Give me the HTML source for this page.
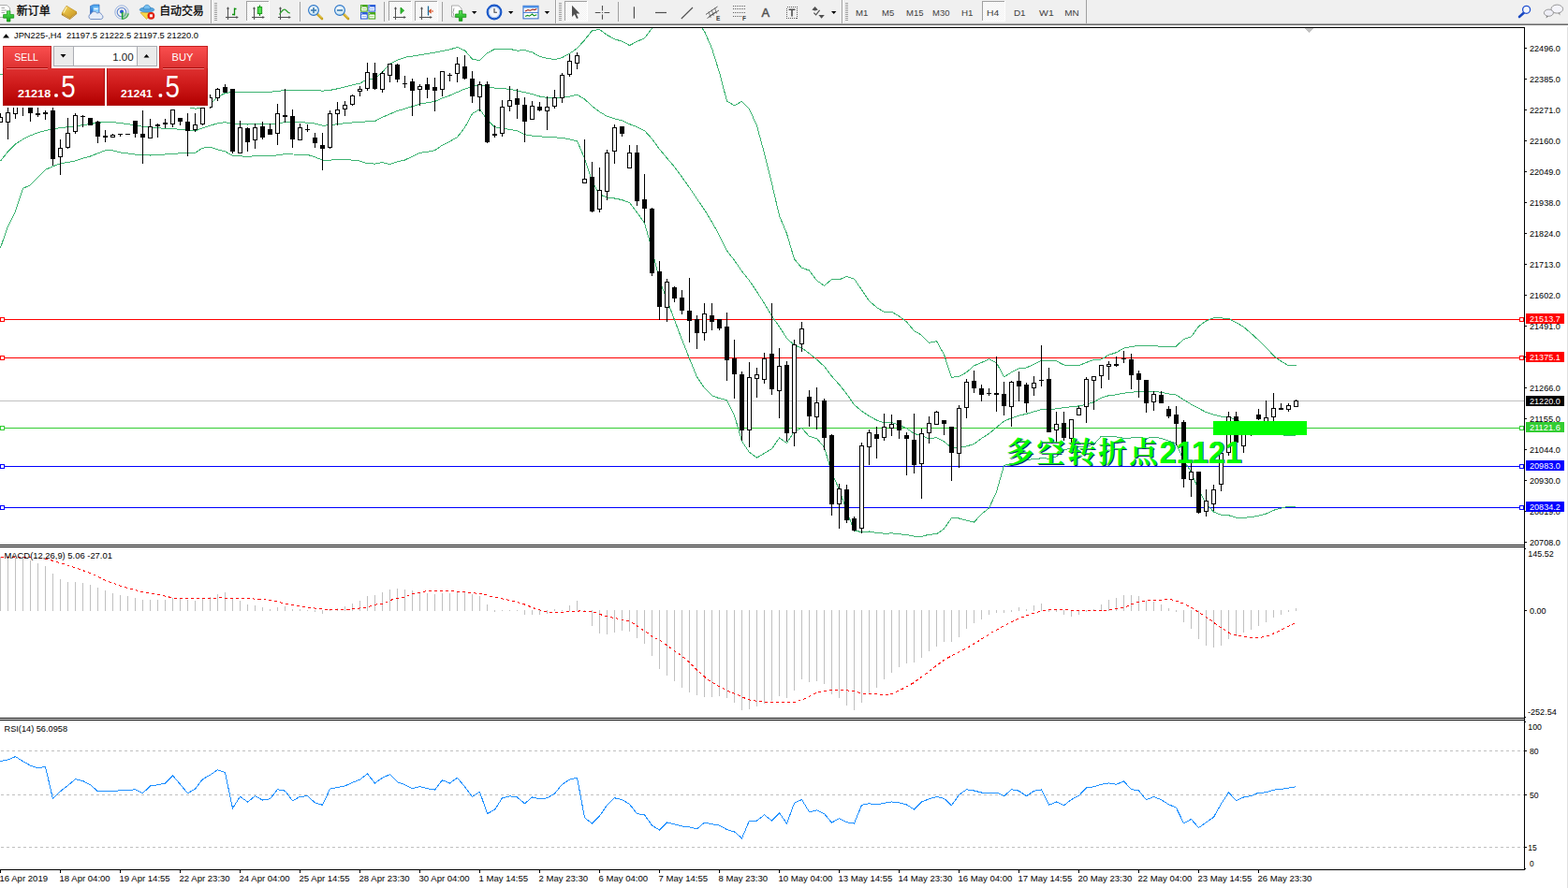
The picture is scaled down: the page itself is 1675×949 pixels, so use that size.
<!DOCTYPE html>
<html><head><meta charset="utf-8"><title>JPN225 H4</title>
<style>
html,body{margin:0;padding:0;background:#fff;overflow:hidden}
body{width:1675px;height:949px;position:relative;font-family:"Liberation Sans",sans-serif}

#panel{position:absolute;left:0;top:0;width:230px;height:120px}
#panel .pb{position:absolute;box-sizing:border-box}
#panel .sellt{background:linear-gradient(#f94e4e,#de3232);border:1px solid #c42020;border-bottom:none}
#panel .low{background:linear-gradient(#de3030,#d01c1c 40%,#b20000);border:1px solid #b01010;border-top:none}

</style></head><body>
<svg id="chart" width="1675" height="949" viewBox="0 0 1675 949" style="position:absolute;left:0;top:0" font-family="Liberation Sans, sans-serif" font-size="9.7px">
<g shape-rendering="crispEdges">
<rect x="0" y="29" width="1629" height="1" fill="#000"/>
<rect x="1628" y="29" width="1" height="901" fill="#000"/>
<rect x="0" y="582" width="1629" height="1" fill="#000"/>
<rect x="0" y="584" width="1629" height="1" fill="#000"/>
<rect x="0" y="767" width="1629" height="1" fill="#000"/>
<rect x="0" y="769" width="1629" height="1" fill="#000"/>
<rect x="0" y="929" width="1629" height="1" fill="#000"/>
<rect x="1674" y="26" width="1" height="923" fill="#e0e0e0"/>
<clipPath id="cm"><rect x="0" y="30" width="1628" height="552"/></clipPath>
<clipPath id="cd"><rect x="0" y="585" width="1628" height="182"/></clipPath>
<clipPath id="cr"><rect x="0" y="770" width="1628" height="159"/></clipPath>
<rect x="0" y="428" width="1628" height="1" fill="#c0c0c0"/>
</g>
<g shape-rendering="crispEdges">
<rect x="0" y="341" width="1628" height="1" fill="#ff0000"/>
<rect x="0" y="339" width="5" height="5" fill="#ff0000"/>
<rect x="1" y="340" width="3" height="3" fill="#fff"/>
<rect x="1623" y="339" width="5" height="5" fill="#ff0000"/>
<rect x="1624" y="340" width="3" height="3" fill="#fff"/>
<rect x="0" y="382" width="1628" height="1" fill="#ff0000"/>
<rect x="0" y="380" width="5" height="5" fill="#ff0000"/>
<rect x="1" y="381" width="3" height="3" fill="#fff"/>
<rect x="1623" y="380" width="5" height="5" fill="#ff0000"/>
<rect x="1624" y="381" width="3" height="3" fill="#fff"/>
<rect x="0" y="457" width="1628" height="1" fill="#32cd32"/>
<rect x="0" y="455" width="5" height="5" fill="#32cd32"/>
<rect x="1" y="456" width="3" height="3" fill="#fff"/>
<rect x="1623" y="455" width="5" height="5" fill="#32cd32"/>
<rect x="1624" y="456" width="3" height="3" fill="#fff"/>
<rect x="0" y="498" width="1628" height="1" fill="#0000ff"/>
<rect x="0" y="496" width="5" height="5" fill="#0000ff"/>
<rect x="1" y="497" width="3" height="3" fill="#fff"/>
<rect x="1623" y="496" width="5" height="5" fill="#0000ff"/>
<rect x="1624" y="497" width="3" height="3" fill="#fff"/>
<rect x="0" y="542" width="1628" height="1" fill="#0000ff"/>
<rect x="0" y="540" width="5" height="5" fill="#0000ff"/>
<rect x="1" y="541" width="3" height="3" fill="#fff"/>
<rect x="1623" y="540" width="5" height="5" fill="#0000ff"/>
<rect x="1624" y="541" width="3" height="3" fill="#fff"/>
</g>
<g shape-rendering="crispEdges">
<polyline clip-path="url(#cm)" points="0.5,79.2 8.5,82.1 16.5,82.5 24.5,96.1 32.5,92.0 40.5,94.2 48.5,97.5 56.5,97.6 64.5,98.5 72.5,97.9 80.5,97.4 88.5,98.3 96.5,98.0 104.5,98.7 112.5,100.6 120.5,100.6 128.5,100.1 136.5,101.2 144.5,102.3 152.5,104.7 160.5,105.6 168.5,107.1 176.5,110.2 184.5,111.3 192.5,112.6 200.5,114.4 208.5,116.1 216.5,115.7 224.5,111.1 232.5,103.8 240.5,99.4 248.5,98.6 256.5,98.7 264.5,98.4 272.5,98.4 280.5,98.4 288.5,98.3 296.5,97.3 304.5,96.7 312.5,96.6 320.5,96.6 328.5,96.7 336.5,96.3 344.5,97.2 352.5,96.4 360.5,94.8 368.5,92.8 376.5,90.8 384.5,89.1 392.5,84.6 400.5,83.8 408.5,77.1 416.5,68.1 424.5,64.3 432.5,61.3 440.5,60.1 448.5,58.8 456.5,57.4 464.5,56.2 472.5,54.5 480.5,52.9 488.5,50.5 496.5,53.9 504.5,63.1 512.5,64.8 520.5,56.8 528.5,52.4 536.5,52.1 544.5,52.3 552.5,54.2 560.5,53.6 568.5,55.9 576.5,60.3 584.5,62.3 592.5,63.6 600.5,61.5 608.5,57.2 616.5,51.7 624.5,42.8 632.5,32.8 640.5,31.4 648.5,37.4 656.5,41.8 664.5,44.2 672.5,48.5 680.5,44.4 688.5,40.7 696.5,30.1 704.5,19.3 712.5,17.6 720.5,14.9 728.5,15.6 736.5,17.8 744.5,22.4 752.5,33.4 760.5,51.8 768.5,77.4 776.5,108.1 784.5,112.7 792.5,108.4 800.5,116.5 808.5,134.5 816.5,163.8 824.5,196.1 832.5,230.4 840.5,249.7 848.5,276.9 856.5,286.3 864.5,289.0 872.5,299.8 880.5,305.3 888.5,298.7 896.5,298.9 904.5,295.4 912.5,298.1 920.5,309.8 928.5,321.6 936.5,328.5 944.5,333.4 952.5,333.2 960.5,338.0 968.5,343.9 976.5,353.6 984.5,358.2 992.5,366.4 1000.5,364.6 1008.5,378.9 1016.5,403.4 1024.5,402.3 1032.5,397.9 1040.5,390.8 1048.5,387.5 1056.5,383.9 1064.5,387.7 1072.5,402.8 1080.5,397.9 1088.5,393.9 1096.5,393.0 1104.5,389.2 1112.5,385.4 1120.5,385.3 1128.5,385.9 1136.5,390.0 1144.5,390.7 1152.5,390.7 1160.5,387.4 1168.5,384.3 1176.5,384.0 1184.5,379.3 1192.5,376.7 1200.5,372.2 1208.5,370.4 1216.5,369.4 1224.5,369.5 1232.5,369.4 1240.5,370.4 1248.5,370.8 1256.5,370.1 1264.5,362.4 1272.5,359.8 1280.5,348.8 1288.5,342.9 1296.5,339.7 1304.5,339.9 1312.5,340.4 1320.5,344.7 1328.5,349.4 1336.5,356.3 1344.5,363.6 1352.5,371.2 1360.5,380.2 1368.5,386.1 1376.5,390.7 1384.5,390.3" fill="none" stroke="#3cb371" stroke-width="1" />
<polyline clip-path="url(#cm)" points="0.5,172.0 8.5,162.0 16.5,154.1 24.5,148.8 32.5,144.9 40.5,141.8 48.5,139.5 56.5,137.7 64.5,136.7 72.5,135.7 80.5,134.7 88.5,133.7 96.5,132.5 104.5,131.2 112.5,130.7 120.5,130.7 128.5,131.5 136.5,132.6 144.5,133.7 152.5,135.3 160.5,135.8 168.5,136.5 176.5,137.6 184.5,137.8 192.5,138.2 200.5,139.1 208.5,139.7 216.5,136.9 224.5,134.2 232.5,131.8 240.5,130.7 248.5,132.5 256.5,132.7 264.5,133.0 272.5,132.5 280.5,132.6 288.5,132.7 296.5,131.6 304.5,130.7 312.5,130.8 320.5,130.8 328.5,131.1 336.5,132.1 344.5,134.2 352.5,133.8 360.5,132.7 368.5,131.6 376.5,131.0 384.5,130.6 392.5,129.7 400.5,129.5 408.5,125.3 416.5,121.9 424.5,118.5 432.5,116.2 440.5,113.7 448.5,111.1 456.5,109.8 464.5,108.5 472.5,104.8 480.5,102.0 488.5,98.5 496.5,95.1 504.5,92.3 512.5,90.8 520.5,92.5 528.5,94.1 536.5,94.7 544.5,95.3 552.5,97.0 560.5,98.7 568.5,100.5 576.5,103.0 584.5,104.5 592.5,105.2 600.5,104.4 608.5,103.1 616.5,101.2 624.5,106.0 632.5,113.4 640.5,119.5 648.5,124.3 656.5,126.9 664.5,128.9 672.5,132.6 680.5,135.7 688.5,139.6 696.5,148.4 704.5,159.4 712.5,168.9 720.5,178.4 728.5,189.3 736.5,200.5 744.5,212.6 752.5,224.1 760.5,237.3 768.5,251.6 776.5,267.8 784.5,278.2 792.5,289.9 800.5,299.9 808.5,311.8 816.5,324.2 824.5,337.8 832.5,349.2 840.5,361.6 848.5,368.9 856.5,371.9 864.5,377.7 872.5,384.2 880.5,391.6 888.5,402.0 896.5,411.0 904.5,421.0 912.5,432.6 920.5,439.2 928.5,444.8 936.5,449.0 944.5,451.8 952.5,451.5 960.5,454.3 968.5,457.7 976.5,463.4 984.5,465.8 992.5,468.8 1000.5,467.7 1008.5,471.9 1016.5,478.5 1024.5,478.1 1032.5,477.0 1040.5,474.4 1048.5,468.5 1056.5,463.4 1064.5,456.7 1072.5,450.1 1080.5,446.7 1088.5,444.2 1096.5,442.3 1104.5,439.9 1112.5,437.6 1120.5,437.7 1128.5,436.9 1136.5,435.5 1144.5,434.8 1152.5,433.9 1160.5,432.2 1168.5,429.7 1176.5,425.1 1184.5,422.7 1192.5,421.8 1200.5,420.2 1208.5,419.2 1216.5,418.5 1224.5,418.9 1232.5,418.3 1240.5,419.4 1248.5,421.0 1256.5,422.1 1264.5,427.2 1272.5,432.1 1280.5,436.4 1288.5,440.6 1296.5,443.3 1304.5,445.1 1312.5,445.5 1320.5,448.9 1328.5,451.4 1336.5,454.4 1344.5,457.4 1352.5,460.1 1360.5,462.8 1368.5,464.6 1376.5,466.0 1384.5,465.9" fill="none" stroke="#3cb371" stroke-width="1" />
<polyline clip-path="url(#cm)" points="0.5,264.8 8.5,241.9 16.5,225.7 24.5,201.4 32.5,197.7 40.5,189.5 48.5,181.4 56.5,177.8 64.5,174.8 72.5,173.4 80.5,171.9 88.5,169.1 96.5,167.0 104.5,163.8 112.5,160.8 120.5,160.8 128.5,163.0 136.5,164.0 144.5,165.1 152.5,165.9 160.5,166.0 168.5,165.9 176.5,164.9 184.5,164.3 192.5,163.9 200.5,163.8 208.5,163.2 216.5,158.2 224.5,157.3 232.5,159.9 240.5,161.9 248.5,166.5 256.5,166.7 264.5,167.6 272.5,166.5 280.5,166.8 288.5,167.0 296.5,165.8 304.5,164.6 312.5,165.0 320.5,165.1 328.5,165.4 336.5,167.8 344.5,171.2 352.5,171.1 360.5,170.5 368.5,170.4 376.5,171.2 384.5,172.1 392.5,174.7 400.5,175.1 408.5,173.5 416.5,175.7 424.5,172.7 432.5,171.0 440.5,167.2 448.5,163.4 456.5,162.3 464.5,160.7 472.5,155.2 480.5,151.2 488.5,146.6 496.5,136.3 504.5,121.5 512.5,116.7 520.5,128.2 528.5,135.8 536.5,137.3 544.5,138.3 552.5,139.8 560.5,143.8 568.5,145.1 576.5,145.7 584.5,146.7 592.5,146.9 600.5,147.3 608.5,148.9 616.5,150.8 624.5,169.1 632.5,194.1 640.5,207.7 648.5,211.2 656.5,212.0 664.5,213.6 672.5,216.6 680.5,227.0 688.5,238.4 696.5,266.8 704.5,299.6 712.5,320.3 720.5,341.9 728.5,363.0 736.5,383.2 744.5,402.8 752.5,414.8 760.5,422.8 768.5,425.7 776.5,427.6 784.5,443.8 792.5,471.4 800.5,483.4 808.5,489.1 816.5,484.5 824.5,479.6 832.5,468.0 840.5,473.5 848.5,460.9 856.5,457.4 864.5,466.4 872.5,468.6 880.5,478.0 888.5,505.2 896.5,523.1 904.5,546.6 912.5,567.0 920.5,568.6 928.5,568.0 936.5,569.4 944.5,570.2 952.5,569.9 960.5,570.7 968.5,571.6 976.5,573.2 984.5,573.4 992.5,571.2 1000.5,570.8 1008.5,565.0 1016.5,553.6 1024.5,554.0 1032.5,556.2 1040.5,558.0 1048.5,549.5 1056.5,542.9 1064.5,525.8 1072.5,497.4 1080.5,495.5 1088.5,494.5 1096.5,491.6 1104.5,490.6 1112.5,489.8 1120.5,490.1 1128.5,487.9 1136.5,481.0 1144.5,478.8 1152.5,477.2 1160.5,477.0 1168.5,475.1 1176.5,466.1 1184.5,466.1 1192.5,466.9 1200.5,468.3 1208.5,468.0 1216.5,467.6 1224.5,468.3 1232.5,467.2 1240.5,468.4 1248.5,471.2 1256.5,474.1 1264.5,492.0 1272.5,504.5 1280.5,524.1 1288.5,538.2 1296.5,547.0 1304.5,550.3 1312.5,550.7 1320.5,553.1 1328.5,553.4 1336.5,552.6 1344.5,551.1 1352.5,549.0 1360.5,545.3 1368.5,543.1 1376.5,541.2 1384.5,541.4" fill="none" stroke="#3cb371" stroke-width="1" />
</g>
<g shape-rendering="crispEdges" clip-path="url(#cm)">
<rect x="0" y="121" width="1" height="10" fill="#000"/>
<rect x="-2" y="125" width="5" height="6" fill="#000"/>
<rect x="-1" y="126" width="3" height="4" fill="#fff"/>
<rect x="8" y="115" width="1" height="34" fill="#000"/>
<rect x="6" y="120" width="5" height="11" fill="#000"/>
<rect x="7" y="121" width="3" height="9" fill="#fff"/>
<rect x="16" y="112" width="1" height="15" fill="#000"/>
<rect x="14" y="112" width="5" height="10" fill="#000"/>
<rect x="15" y="113" width="3" height="8" fill="#fff"/>
<rect x="24" y="112" width="1" height="12" fill="#000"/>
<rect x="22" y="112" width="5" height="1" fill="#000"/>
<rect x="32" y="112" width="1" height="18" fill="#000"/>
<rect x="30" y="112" width="5" height="9" fill="#000"/>
<rect x="40" y="112" width="1" height="13" fill="#000"/>
<rect x="38" y="121" width="5" height="2" fill="#000"/>
<rect x="48" y="118" width="1" height="10" fill="#000"/>
<rect x="46" y="120" width="5" height="2" fill="#000"/>
<rect x="56" y="115" width="1" height="62" fill="#000"/>
<rect x="54" y="118" width="5" height="52" fill="#000"/>
<rect x="64" y="149" width="1" height="38" fill="#000"/>
<rect x="62" y="158" width="5" height="10" fill="#000"/>
<rect x="63" y="159" width="3" height="8" fill="#fff"/>
<rect x="72" y="126" width="1" height="33" fill="#000"/>
<rect x="70" y="142" width="5" height="16" fill="#000"/>
<rect x="71" y="143" width="3" height="14" fill="#fff"/>
<rect x="80" y="121" width="1" height="22" fill="#000"/>
<rect x="78" y="123" width="5" height="18" fill="#000"/>
<rect x="79" y="124" width="3" height="16" fill="#fff"/>
<rect x="88" y="123" width="1" height="13" fill="#000"/>
<rect x="86" y="124" width="5" height="1" fill="#000"/>
<rect x="96" y="126" width="1" height="8" fill="#000"/>
<rect x="94" y="126" width="5" height="8" fill="#000"/>
<rect x="104" y="129" width="1" height="24" fill="#000"/>
<rect x="102" y="130" width="5" height="16" fill="#000"/>
<rect x="112" y="139" width="1" height="13" fill="#000"/>
<rect x="110" y="145" width="5" height="2" fill="#000"/>
<rect x="120" y="143" width="1" height="4" fill="#000"/>
<rect x="118" y="144" width="5" height="3" fill="#000"/>
<rect x="119" y="145" width="3" height="1" fill="#fff"/>
<rect x="128" y="143" width="1" height="3" fill="#000"/>
<rect x="126" y="143" width="5" height="1" fill="#000"/>
<rect x="134" y="143" width="5" height="1" fill="#000"/>
<rect x="144" y="129" width="1" height="18" fill="#000"/>
<rect x="142" y="129" width="5" height="14" fill="#000"/>
<rect x="152" y="118" width="1" height="57" fill="#000"/>
<rect x="150" y="143" width="5" height="4" fill="#000"/>
<rect x="160" y="127" width="1" height="21" fill="#000"/>
<rect x="158" y="135" width="5" height="13" fill="#000"/>
<rect x="159" y="136" width="3" height="11" fill="#fff"/>
<rect x="168" y="132" width="1" height="15" fill="#000"/>
<rect x="166" y="133" width="5" height="2" fill="#000"/>
<rect x="176" y="127" width="1" height="10" fill="#000"/>
<rect x="174" y="131" width="5" height="2" fill="#000"/>
<rect x="184" y="117" width="1" height="19" fill="#000"/>
<rect x="182" y="117" width="5" height="16" fill="#000"/>
<rect x="183" y="118" width="3" height="14" fill="#fff"/>
<rect x="192" y="126" width="1" height="8" fill="#000"/>
<rect x="190" y="126" width="5" height="4" fill="#000"/>
<rect x="200" y="121" width="1" height="46" fill="#000"/>
<rect x="198" y="130" width="5" height="10" fill="#000"/>
<rect x="208" y="121" width="1" height="20" fill="#000"/>
<rect x="206" y="133" width="5" height="6" fill="#000"/>
<rect x="207" y="134" width="3" height="4" fill="#fff"/>
<rect x="216" y="113" width="1" height="21" fill="#000"/>
<rect x="214" y="115" width="5" height="18" fill="#000"/>
<rect x="215" y="116" width="3" height="16" fill="#fff"/>
<rect x="224" y="101" width="1" height="15" fill="#000"/>
<rect x="222" y="104" width="5" height="11" fill="#000"/>
<rect x="223" y="105" width="3" height="9" fill="#fff"/>
<rect x="232" y="94" width="1" height="14" fill="#000"/>
<rect x="230" y="95" width="5" height="10" fill="#000"/>
<rect x="231" y="96" width="3" height="8" fill="#fff"/>
<rect x="240" y="90" width="1" height="9" fill="#000"/>
<rect x="238" y="93" width="5" height="6" fill="#000"/>
<rect x="248" y="95" width="1" height="69" fill="#000"/>
<rect x="246" y="95" width="5" height="67" fill="#000"/>
<rect x="256" y="129" width="1" height="35" fill="#000"/>
<rect x="254" y="136" width="5" height="28" fill="#000"/>
<rect x="255" y="137" width="3" height="26" fill="#fff"/>
<rect x="264" y="136" width="1" height="26" fill="#000"/>
<rect x="262" y="137" width="5" height="15" fill="#000"/>
<rect x="272" y="132" width="1" height="27" fill="#000"/>
<rect x="270" y="136" width="5" height="14" fill="#000"/>
<rect x="271" y="137" width="3" height="12" fill="#fff"/>
<rect x="280" y="130" width="1" height="19" fill="#000"/>
<rect x="278" y="135" width="5" height="12" fill="#000"/>
<rect x="288" y="132" width="1" height="12" fill="#000"/>
<rect x="286" y="138" width="5" height="6" fill="#000"/>
<rect x="296" y="111" width="1" height="44" fill="#000"/>
<rect x="294" y="121" width="5" height="22" fill="#000"/>
<rect x="295" y="122" width="3" height="20" fill="#fff"/>
<rect x="304" y="95" width="1" height="36" fill="#000"/>
<rect x="302" y="123" width="5" height="2" fill="#000"/>
<rect x="312" y="117" width="1" height="41" fill="#000"/>
<rect x="310" y="124" width="5" height="25" fill="#000"/>
<rect x="320" y="132" width="1" height="18" fill="#000"/>
<rect x="318" y="136" width="5" height="14" fill="#000"/>
<rect x="319" y="137" width="3" height="12" fill="#fff"/>
<rect x="328" y="133" width="1" height="8" fill="#000"/>
<rect x="326" y="138" width="5" height="1" fill="#000"/>
<rect x="336" y="142" width="1" height="16" fill="#000"/>
<rect x="334" y="147" width="5" height="6" fill="#000"/>
<rect x="344" y="142" width="1" height="40" fill="#000"/>
<rect x="342" y="155" width="5" height="4" fill="#000"/>
<rect x="352" y="118" width="1" height="41" fill="#000"/>
<rect x="350" y="121" width="5" height="37" fill="#000"/>
<rect x="351" y="122" width="3" height="35" fill="#fff"/>
<rect x="360" y="109" width="1" height="25" fill="#000"/>
<rect x="358" y="117" width="5" height="5" fill="#000"/>
<rect x="359" y="118" width="3" height="3" fill="#fff"/>
<rect x="368" y="108" width="1" height="16" fill="#000"/>
<rect x="366" y="112" width="5" height="5" fill="#000"/>
<rect x="367" y="113" width="3" height="3" fill="#fff"/>
<rect x="376" y="101" width="1" height="12" fill="#000"/>
<rect x="374" y="102" width="5" height="10" fill="#000"/>
<rect x="375" y="103" width="3" height="8" fill="#fff"/>
<rect x="384" y="92" width="1" height="11" fill="#000"/>
<rect x="382" y="95" width="5" height="3" fill="#000"/>
<rect x="383" y="96" width="3" height="1" fill="#fff"/>
<rect x="392" y="67" width="1" height="30" fill="#000"/>
<rect x="390" y="77" width="5" height="18" fill="#000"/>
<rect x="391" y="78" width="3" height="16" fill="#fff"/>
<rect x="400" y="67" width="1" height="29" fill="#000"/>
<rect x="398" y="78" width="5" height="17" fill="#000"/>
<rect x="408" y="76" width="1" height="23" fill="#000"/>
<rect x="406" y="78" width="5" height="18" fill="#000"/>
<rect x="407" y="79" width="3" height="16" fill="#fff"/>
<rect x="416" y="68" width="1" height="20" fill="#000"/>
<rect x="414" y="68" width="5" height="13" fill="#000"/>
<rect x="415" y="69" width="3" height="11" fill="#fff"/>
<rect x="424" y="68" width="1" height="20" fill="#000"/>
<rect x="422" y="69" width="5" height="16" fill="#000"/>
<rect x="432" y="81" width="1" height="13" fill="#000"/>
<rect x="430" y="89" width="5" height="1" fill="#000"/>
<rect x="440" y="84" width="1" height="40" fill="#000"/>
<rect x="438" y="87" width="5" height="10" fill="#000"/>
<rect x="448" y="90" width="1" height="23" fill="#000"/>
<rect x="446" y="92" width="5" height="4" fill="#000"/>
<rect x="447" y="93" width="3" height="2" fill="#fff"/>
<rect x="456" y="83" width="1" height="22" fill="#000"/>
<rect x="454" y="90" width="5" height="6" fill="#000"/>
<rect x="464" y="83" width="1" height="36" fill="#000"/>
<rect x="462" y="93" width="5" height="4" fill="#000"/>
<rect x="472" y="76" width="1" height="27" fill="#000"/>
<rect x="470" y="76" width="5" height="20" fill="#000"/>
<rect x="471" y="77" width="3" height="18" fill="#fff"/>
<rect x="480" y="78" width="1" height="9" fill="#000"/>
<rect x="478" y="80" width="5" height="1" fill="#000"/>
<rect x="488" y="61" width="1" height="27" fill="#000"/>
<rect x="486" y="68" width="5" height="11" fill="#000"/>
<rect x="487" y="69" width="3" height="9" fill="#fff"/>
<rect x="496" y="59" width="1" height="26" fill="#000"/>
<rect x="494" y="71" width="5" height="13" fill="#000"/>
<rect x="504" y="76" width="1" height="34" fill="#000"/>
<rect x="502" y="84" width="5" height="19" fill="#000"/>
<rect x="512" y="87" width="1" height="32" fill="#000"/>
<rect x="510" y="90" width="5" height="14" fill="#000"/>
<rect x="511" y="91" width="3" height="12" fill="#fff"/>
<rect x="520" y="87" width="1" height="66" fill="#000"/>
<rect x="518" y="90" width="5" height="62" fill="#000"/>
<rect x="528" y="134" width="1" height="13" fill="#000"/>
<rect x="526" y="143" width="5" height="2" fill="#000"/>
<rect x="536" y="107" width="1" height="39" fill="#000"/>
<rect x="534" y="114" width="5" height="29" fill="#000"/>
<rect x="535" y="115" width="3" height="27" fill="#fff"/>
<rect x="544" y="92" width="1" height="27" fill="#000"/>
<rect x="542" y="107" width="5" height="7" fill="#000"/>
<rect x="543" y="108" width="3" height="5" fill="#fff"/>
<rect x="552" y="95" width="1" height="32" fill="#000"/>
<rect x="550" y="105" width="5" height="7" fill="#000"/>
<rect x="560" y="104" width="1" height="48" fill="#000"/>
<rect x="558" y="112" width="5" height="18" fill="#000"/>
<rect x="568" y="108" width="1" height="20" fill="#000"/>
<rect x="566" y="113" width="5" height="15" fill="#000"/>
<rect x="567" y="114" width="3" height="13" fill="#fff"/>
<rect x="576" y="109" width="1" height="10" fill="#000"/>
<rect x="574" y="114" width="5" height="4" fill="#000"/>
<rect x="584" y="103" width="1" height="36" fill="#000"/>
<rect x="582" y="114" width="5" height="5" fill="#000"/>
<rect x="583" y="115" width="3" height="3" fill="#fff"/>
<rect x="592" y="96" width="1" height="20" fill="#000"/>
<rect x="590" y="104" width="5" height="10" fill="#000"/>
<rect x="591" y="105" width="3" height="8" fill="#fff"/>
<rect x="600" y="78" width="1" height="32" fill="#000"/>
<rect x="598" y="80" width="5" height="25" fill="#000"/>
<rect x="599" y="81" width="3" height="23" fill="#fff"/>
<rect x="608" y="58" width="1" height="24" fill="#000"/>
<rect x="606" y="65" width="5" height="15" fill="#000"/>
<rect x="607" y="66" width="3" height="13" fill="#fff"/>
<rect x="616" y="56" width="1" height="18" fill="#000"/>
<rect x="614" y="59" width="5" height="9" fill="#000"/>
<rect x="615" y="60" width="3" height="7" fill="#fff"/>
<rect x="624" y="149" width="1" height="46" fill="#000"/>
<rect x="622" y="191" width="5" height="5" fill="#000"/>
<rect x="623" y="192" width="3" height="3" fill="#fff"/>
<rect x="632" y="173" width="1" height="54" fill="#000"/>
<rect x="630" y="189" width="5" height="37" fill="#000"/>
<rect x="640" y="179" width="1" height="48" fill="#000"/>
<rect x="638" y="203" width="5" height="21" fill="#000"/>
<rect x="639" y="204" width="3" height="19" fill="#fff"/>
<rect x="648" y="160" width="1" height="54" fill="#000"/>
<rect x="646" y="163" width="5" height="42" fill="#000"/>
<rect x="647" y="164" width="3" height="40" fill="#fff"/>
<rect x="656" y="133" width="1" height="42" fill="#000"/>
<rect x="654" y="136" width="5" height="26" fill="#000"/>
<rect x="655" y="137" width="3" height="24" fill="#fff"/>
<rect x="664" y="135" width="1" height="11" fill="#000"/>
<rect x="662" y="135" width="5" height="8" fill="#000"/>
<rect x="672" y="155" width="1" height="25" fill="#000"/>
<rect x="670" y="163" width="5" height="17" fill="#000"/>
<rect x="671" y="164" width="3" height="15" fill="#fff"/>
<rect x="680" y="155" width="1" height="65" fill="#000"/>
<rect x="678" y="163" width="5" height="52" fill="#000"/>
<rect x="688" y="186" width="1" height="52" fill="#000"/>
<rect x="686" y="213" width="5" height="10" fill="#000"/>
<rect x="696" y="222" width="1" height="73" fill="#000"/>
<rect x="694" y="223" width="5" height="69" fill="#000"/>
<rect x="704" y="279" width="1" height="63" fill="#000"/>
<rect x="702" y="290" width="5" height="38" fill="#000"/>
<rect x="712" y="298" width="1" height="46" fill="#000"/>
<rect x="710" y="301" width="5" height="28" fill="#000"/>
<rect x="711" y="302" width="3" height="26" fill="#fff"/>
<rect x="720" y="306" width="1" height="17" fill="#000"/>
<rect x="718" y="307" width="5" height="12" fill="#000"/>
<rect x="728" y="310" width="1" height="26" fill="#000"/>
<rect x="726" y="318" width="5" height="14" fill="#000"/>
<rect x="736" y="297" width="1" height="69" fill="#000"/>
<rect x="734" y="332" width="5" height="11" fill="#000"/>
<rect x="744" y="337" width="1" height="36" fill="#000"/>
<rect x="742" y="341" width="5" height="15" fill="#000"/>
<rect x="752" y="324" width="1" height="40" fill="#000"/>
<rect x="750" y="335" width="5" height="21" fill="#000"/>
<rect x="751" y="336" width="3" height="19" fill="#fff"/>
<rect x="760" y="324" width="1" height="29" fill="#000"/>
<rect x="758" y="337" width="5" height="7" fill="#000"/>
<rect x="768" y="341" width="1" height="12" fill="#000"/>
<rect x="766" y="341" width="5" height="10" fill="#000"/>
<rect x="776" y="334" width="1" height="73" fill="#000"/>
<rect x="774" y="349" width="5" height="36" fill="#000"/>
<rect x="784" y="363" width="1" height="63" fill="#000"/>
<rect x="782" y="383" width="5" height="17" fill="#000"/>
<rect x="792" y="397" width="1" height="74" fill="#000"/>
<rect x="790" y="400" width="5" height="60" fill="#000"/>
<rect x="800" y="387" width="1" height="91" fill="#000"/>
<rect x="798" y="403" width="5" height="57" fill="#000"/>
<rect x="799" y="404" width="3" height="55" fill="#fff"/>
<rect x="808" y="393" width="1" height="32" fill="#000"/>
<rect x="806" y="400" width="5" height="5" fill="#000"/>
<rect x="807" y="401" width="3" height="3" fill="#fff"/>
<rect x="816" y="377" width="1" height="33" fill="#000"/>
<rect x="814" y="383" width="5" height="23" fill="#000"/>
<rect x="815" y="384" width="3" height="21" fill="#fff"/>
<rect x="824" y="324" width="1" height="98" fill="#000"/>
<rect x="822" y="378" width="5" height="38" fill="#000"/>
<rect x="832" y="372" width="1" height="75" fill="#000"/>
<rect x="830" y="391" width="5" height="27" fill="#000"/>
<rect x="831" y="392" width="3" height="25" fill="#fff"/>
<rect x="840" y="386" width="1" height="86" fill="#000"/>
<rect x="838" y="390" width="5" height="73" fill="#000"/>
<rect x="848" y="363" width="1" height="114" fill="#000"/>
<rect x="846" y="368" width="5" height="95" fill="#000"/>
<rect x="847" y="369" width="3" height="93" fill="#fff"/>
<rect x="856" y="344" width="1" height="32" fill="#000"/>
<rect x="854" y="351" width="5" height="17" fill="#000"/>
<rect x="855" y="352" width="3" height="15" fill="#fff"/>
<rect x="864" y="417" width="1" height="39" fill="#000"/>
<rect x="862" y="424" width="5" height="21" fill="#000"/>
<rect x="872" y="414" width="1" height="45" fill="#000"/>
<rect x="870" y="430" width="5" height="16" fill="#000"/>
<rect x="871" y="431" width="3" height="14" fill="#fff"/>
<rect x="880" y="426" width="1" height="55" fill="#000"/>
<rect x="878" y="428" width="5" height="40" fill="#000"/>
<rect x="888" y="464" width="1" height="87" fill="#000"/>
<rect x="886" y="465" width="5" height="74" fill="#000"/>
<rect x="896" y="517" width="1" height="48" fill="#000"/>
<rect x="894" y="522" width="5" height="17" fill="#000"/>
<rect x="895" y="523" width="3" height="15" fill="#fff"/>
<rect x="904" y="518" width="1" height="41" fill="#000"/>
<rect x="902" y="523" width="5" height="33" fill="#000"/>
<rect x="912" y="552" width="1" height="16" fill="#000"/>
<rect x="910" y="554" width="5" height="13" fill="#000"/>
<rect x="920" y="473" width="1" height="97" fill="#000"/>
<rect x="918" y="476" width="5" height="89" fill="#000"/>
<rect x="919" y="477" width="3" height="87" fill="#fff"/>
<rect x="928" y="459" width="1" height="38" fill="#000"/>
<rect x="926" y="462" width="5" height="16" fill="#000"/>
<rect x="927" y="463" width="3" height="14" fill="#fff"/>
<rect x="936" y="456" width="1" height="34" fill="#000"/>
<rect x="934" y="464" width="5" height="5" fill="#000"/>
<rect x="944" y="442" width="1" height="29" fill="#000"/>
<rect x="942" y="456" width="5" height="12" fill="#000"/>
<rect x="943" y="457" width="3" height="10" fill="#fff"/>
<rect x="952" y="443" width="1" height="23" fill="#000"/>
<rect x="950" y="453" width="5" height="5" fill="#000"/>
<rect x="951" y="454" width="3" height="3" fill="#fff"/>
<rect x="960" y="449" width="1" height="20" fill="#000"/>
<rect x="958" y="449" width="5" height="11" fill="#000"/>
<rect x="968" y="462" width="1" height="46" fill="#000"/>
<rect x="966" y="465" width="5" height="4" fill="#000"/>
<rect x="976" y="442" width="1" height="64" fill="#000"/>
<rect x="974" y="470" width="5" height="27" fill="#000"/>
<rect x="984" y="458" width="1" height="75" fill="#000"/>
<rect x="982" y="463" width="5" height="33" fill="#000"/>
<rect x="983" y="464" width="3" height="31" fill="#fff"/>
<rect x="992" y="445" width="1" height="29" fill="#000"/>
<rect x="990" y="452" width="5" height="11" fill="#000"/>
<rect x="991" y="453" width="3" height="9" fill="#fff"/>
<rect x="1000" y="439" width="1" height="15" fill="#000"/>
<rect x="998" y="440" width="5" height="14" fill="#000"/>
<rect x="999" y="441" width="3" height="12" fill="#fff"/>
<rect x="1008" y="449" width="1" height="16" fill="#000"/>
<rect x="1006" y="449" width="5" height="4" fill="#000"/>
<rect x="1016" y="456" width="1" height="58" fill="#000"/>
<rect x="1014" y="456" width="5" height="28" fill="#000"/>
<rect x="1024" y="433" width="1" height="67" fill="#000"/>
<rect x="1022" y="436" width="5" height="49" fill="#000"/>
<rect x="1023" y="437" width="3" height="47" fill="#fff"/>
<rect x="1032" y="405" width="1" height="42" fill="#000"/>
<rect x="1030" y="408" width="5" height="28" fill="#000"/>
<rect x="1031" y="409" width="3" height="26" fill="#fff"/>
<rect x="1040" y="396" width="1" height="24" fill="#000"/>
<rect x="1038" y="407" width="5" height="8" fill="#000"/>
<rect x="1048" y="411" width="1" height="18" fill="#000"/>
<rect x="1046" y="415" width="5" height="7" fill="#000"/>
<rect x="1056" y="415" width="1" height="8" fill="#000"/>
<rect x="1054" y="420" width="5" height="1" fill="#000"/>
<rect x="1064" y="381" width="1" height="59" fill="#000"/>
<rect x="1062" y="420" width="5" height="2" fill="#000"/>
<rect x="1072" y="408" width="1" height="36" fill="#000"/>
<rect x="1070" y="421" width="5" height="13" fill="#000"/>
<rect x="1080" y="407" width="1" height="49" fill="#000"/>
<rect x="1078" y="408" width="5" height="27" fill="#000"/>
<rect x="1079" y="409" width="3" height="25" fill="#fff"/>
<rect x="1088" y="397" width="1" height="32" fill="#000"/>
<rect x="1086" y="407" width="5" height="6" fill="#000"/>
<rect x="1096" y="409" width="1" height="32" fill="#000"/>
<rect x="1094" y="411" width="5" height="20" fill="#000"/>
<rect x="1104" y="402" width="1" height="21" fill="#000"/>
<rect x="1102" y="409" width="5" height="6" fill="#000"/>
<rect x="1103" y="410" width="3" height="4" fill="#fff"/>
<rect x="1112" y="369" width="1" height="44" fill="#000"/>
<rect x="1110" y="406" width="5" height="1" fill="#000"/>
<rect x="1120" y="393" width="1" height="69" fill="#000"/>
<rect x="1118" y="405" width="5" height="57" fill="#000"/>
<rect x="1128" y="440" width="1" height="33" fill="#000"/>
<rect x="1126" y="453" width="5" height="7" fill="#000"/>
<rect x="1127" y="454" width="3" height="5" fill="#fff"/>
<rect x="1136" y="440" width="1" height="31" fill="#000"/>
<rect x="1134" y="452" width="5" height="16" fill="#000"/>
<rect x="1144" y="448" width="1" height="25" fill="#000"/>
<rect x="1142" y="448" width="5" height="21" fill="#000"/>
<rect x="1143" y="449" width="3" height="19" fill="#fff"/>
<rect x="1152" y="434" width="1" height="10" fill="#000"/>
<rect x="1150" y="436" width="5" height="8" fill="#000"/>
<rect x="1151" y="437" width="3" height="6" fill="#fff"/>
<rect x="1160" y="403" width="1" height="49" fill="#000"/>
<rect x="1158" y="405" width="5" height="30" fill="#000"/>
<rect x="1159" y="406" width="3" height="28" fill="#fff"/>
<rect x="1168" y="402" width="1" height="36" fill="#000"/>
<rect x="1166" y="402" width="5" height="5" fill="#000"/>
<rect x="1167" y="403" width="3" height="3" fill="#fff"/>
<rect x="1176" y="390" width="1" height="25" fill="#000"/>
<rect x="1174" y="390" width="5" height="12" fill="#000"/>
<rect x="1175" y="391" width="3" height="10" fill="#fff"/>
<rect x="1184" y="386" width="1" height="20" fill="#000"/>
<rect x="1182" y="389" width="5" height="3" fill="#000"/>
<rect x="1183" y="390" width="3" height="1" fill="#fff"/>
<rect x="1192" y="381" width="1" height="11" fill="#000"/>
<rect x="1190" y="389" width="5" height="2" fill="#000"/>
<rect x="1200" y="375" width="1" height="13" fill="#000"/>
<rect x="1198" y="383" width="5" height="1" fill="#000"/>
<rect x="1208" y="378" width="1" height="38" fill="#000"/>
<rect x="1206" y="384" width="5" height="17" fill="#000"/>
<rect x="1216" y="396" width="1" height="29" fill="#000"/>
<rect x="1214" y="399" width="5" height="7" fill="#000"/>
<rect x="1224" y="406" width="1" height="35" fill="#000"/>
<rect x="1222" y="406" width="5" height="25" fill="#000"/>
<rect x="1232" y="418" width="1" height="21" fill="#000"/>
<rect x="1230" y="421" width="5" height="9" fill="#000"/>
<rect x="1231" y="422" width="3" height="7" fill="#fff"/>
<rect x="1240" y="418" width="1" height="13" fill="#000"/>
<rect x="1238" y="422" width="5" height="9" fill="#000"/>
<rect x="1248" y="434" width="1" height="13" fill="#000"/>
<rect x="1246" y="437" width="5" height="8" fill="#000"/>
<rect x="1256" y="434" width="1" height="42" fill="#000"/>
<rect x="1254" y="443" width="5" height="10" fill="#000"/>
<rect x="1264" y="449" width="1" height="72" fill="#000"/>
<rect x="1262" y="451" width="5" height="61" fill="#000"/>
<rect x="1272" y="493" width="1" height="38" fill="#000"/>
<rect x="1270" y="504" width="5" height="9" fill="#000"/>
<rect x="1271" y="505" width="3" height="7" fill="#fff"/>
<rect x="1280" y="504" width="1" height="45" fill="#000"/>
<rect x="1278" y="504" width="5" height="44" fill="#000"/>
<rect x="1288" y="523" width="1" height="29" fill="#000"/>
<rect x="1286" y="535" width="5" height="12" fill="#000"/>
<rect x="1287" y="536" width="3" height="10" fill="#fff"/>
<rect x="1296" y="518" width="1" height="28" fill="#000"/>
<rect x="1294" y="523" width="5" height="16" fill="#000"/>
<rect x="1295" y="524" width="3" height="14" fill="#fff"/>
<rect x="1304" y="484" width="1" height="41" fill="#000"/>
<rect x="1302" y="484" width="5" height="34" fill="#000"/>
<rect x="1303" y="485" width="3" height="32" fill="#fff"/>
<rect x="1312" y="440" width="1" height="47" fill="#000"/>
<rect x="1310" y="445" width="5" height="39" fill="#000"/>
<rect x="1311" y="446" width="3" height="37" fill="#fff"/>
<rect x="1320" y="440" width="1" height="33" fill="#000"/>
<rect x="1318" y="445" width="5" height="28" fill="#000"/>
<rect x="1328" y="450" width="1" height="34" fill="#000"/>
<rect x="1326" y="452" width="5" height="25" fill="#000"/>
<rect x="1327" y="453" width="3" height="23" fill="#fff"/>
<rect x="1336" y="450" width="1" height="16" fill="#000"/>
<rect x="1334" y="452" width="5" height="5" fill="#000"/>
<rect x="1335" y="453" width="3" height="3" fill="#fff"/>
<rect x="1344" y="437" width="1" height="12" fill="#000"/>
<rect x="1342" y="443" width="5" height="5" fill="#000"/>
<rect x="1352" y="428" width="1" height="27" fill="#000"/>
<rect x="1350" y="446" width="5" height="7" fill="#000"/>
<rect x="1351" y="447" width="3" height="5" fill="#fff"/>
<rect x="1360" y="420" width="1" height="30" fill="#000"/>
<rect x="1358" y="436" width="5" height="10" fill="#000"/>
<rect x="1359" y="437" width="3" height="8" fill="#fff"/>
<rect x="1368" y="431" width="1" height="7" fill="#000"/>
<rect x="1366" y="436" width="5" height="2" fill="#000"/>
<rect x="1376" y="431" width="1" height="9" fill="#000"/>
<rect x="1374" y="433" width="5" height="5" fill="#000"/>
<rect x="1375" y="434" width="3" height="3" fill="#fff"/>
<rect x="1384" y="427" width="1" height="8" fill="#000"/>
<rect x="1382" y="428" width="5" height="7" fill="#000"/>
<rect x="1383" y="429" width="3" height="5" fill="#fff"/>
</g>
<rect x="1296" y="450" width="100" height="15" fill="#00ff00" shape-rendering="crispEdges"/>
<text x="1075.2" y="494.8" font-family="Liberation Serif, Noto Serif CJK SC, serif" font-size="30.4px" font-weight="bold" letter-spacing="2.6" fill="#0c2c6a">多空转折点</text>
<text x="1239.3" y="495.3" font-family="Liberation Sans, sans-serif" font-size="32.4px" font-weight="bold" fill="#0c2c6a">21121</text>
<text x="1074.3" y="494.1" font-family="Liberation Serif, Noto Serif CJK SC, serif" font-size="30.4px" font-weight="bold" letter-spacing="2.6" fill="#00ff00">多空转折点</text>
<text x="1238.4" y="494.6" font-family="Liberation Sans, sans-serif" font-size="32.4px" font-weight="bold" fill="#00ff00">21121</text>
<g shape-rendering="crispEdges">
<rect x="1629" y="51" width="2" height="1" fill="#000"/>
<rect x="1629" y="84" width="2" height="1" fill="#000"/>
<rect x="1629" y="117" width="2" height="1" fill="#000"/>
<rect x="1629" y="150" width="2" height="1" fill="#000"/>
<rect x="1629" y="183" width="2" height="1" fill="#000"/>
<rect x="1629" y="216" width="2" height="1" fill="#000"/>
<rect x="1629" y="249" width="2" height="1" fill="#000"/>
<rect x="1629" y="282" width="2" height="1" fill="#000"/>
<rect x="1629" y="315" width="2" height="1" fill="#000"/>
<rect x="1629" y="348" width="2" height="1" fill="#000"/>
<rect x="1629" y="381" width="2" height="1" fill="#000"/>
<rect x="1629" y="414" width="2" height="1" fill="#000"/>
<rect x="1629" y="447" width="2" height="1" fill="#000"/>
<rect x="1629" y="480" width="2" height="1" fill="#000"/>
<rect x="1629" y="513" width="2" height="1" fill="#000"/>
<rect x="1629" y="546" width="2" height="1" fill="#000"/>
<rect x="1629" y="579" width="2" height="1" fill="#000"/>
<rect x="1629" y="586" width="1" height="1" fill="#000"/>
<rect x="1629" y="652" width="2" height="1" fill="#000"/>
<rect x="1629" y="766" width="1" height="1" fill="#000"/>
<rect x="1629" y="771" width="1" height="1" fill="#000"/>
<rect x="1629" y="802" width="2" height="1" fill="#000"/>
<rect x="1629" y="849" width="2" height="1" fill="#000"/>
<rect x="1629" y="905" width="2" height="1" fill="#000"/>
<rect x="1629" y="928" width="1" height="1" fill="#000"/>
</g>
<text x="1634" y="54.8" fill="#000" textLength="32.8" lengthAdjust="spacingAndGlyphs" >22496.0</text>
<text x="1634" y="87.8" fill="#000" textLength="32.8" lengthAdjust="spacingAndGlyphs" >22385.0</text>
<text x="1634" y="120.8" fill="#000" textLength="32.8" lengthAdjust="spacingAndGlyphs" >22271.0</text>
<text x="1634" y="153.8" fill="#000" textLength="32.8" lengthAdjust="spacingAndGlyphs" >22160.0</text>
<text x="1634" y="186.8" fill="#000" textLength="32.8" lengthAdjust="spacingAndGlyphs" >22049.0</text>
<text x="1634" y="219.8" fill="#000" textLength="32.8" lengthAdjust="spacingAndGlyphs" >21938.0</text>
<text x="1634" y="252.8" fill="#000" textLength="32.8" lengthAdjust="spacingAndGlyphs" >21824.0</text>
<text x="1634" y="285.8" fill="#000" textLength="32.8" lengthAdjust="spacingAndGlyphs" >21713.0</text>
<text x="1634" y="318.8" fill="#000" textLength="32.8" lengthAdjust="spacingAndGlyphs" >21602.0</text>
<text x="1634" y="351.8" fill="#000" textLength="32.8" lengthAdjust="spacingAndGlyphs" >21491.0</text>
<text x="1634" y="384.8" fill="#000" textLength="32.8" lengthAdjust="spacingAndGlyphs" >21380.0</text>
<text x="1634" y="417.8" fill="#000" textLength="32.8" lengthAdjust="spacingAndGlyphs" >21266.0</text>
<text x="1634" y="450.8" fill="#000" textLength="32.8" lengthAdjust="spacingAndGlyphs" >21155.0</text>
<text x="1634" y="483.8" fill="#000" textLength="32.8" lengthAdjust="spacingAndGlyphs" >21044.0</text>
<text x="1634" y="516.8" fill="#000" textLength="32.8" lengthAdjust="spacingAndGlyphs" >20930.0</text>
<text x="1634" y="549.8" fill="#000" textLength="32.8" lengthAdjust="spacingAndGlyphs" >20819.0</text>
<text x="1634" y="582.8" fill="#000" textLength="32.8" lengthAdjust="spacingAndGlyphs" >20708.0</text>
<g shape-rendering="crispEdges">
<rect x="1630" y="335" width="41" height="11" fill="#ff0000"/>
<rect x="1630" y="376" width="41" height="11" fill="#ff0000"/>
<rect x="1630" y="423" width="41" height="11" fill="#000000"/>
<rect x="1630" y="451" width="41" height="11" fill="#32cd32"/>
<rect x="1630" y="492" width="41" height="11" fill="#0000ff"/>
<rect x="1630" y="536" width="41" height="11" fill="#0000ff"/>
</g>
<text x="1634" y="343.8" fill="#fff" textLength="32.8" lengthAdjust="spacingAndGlyphs" >21513.7</text>
<text x="1634" y="384.8" fill="#fff" textLength="32.8" lengthAdjust="spacingAndGlyphs" >21375.1</text>
<text x="1634" y="431.8" fill="#fff" textLength="32.8" lengthAdjust="spacingAndGlyphs" >21220.0</text>
<text x="1634" y="459.8" fill="#fff" textLength="32.8" lengthAdjust="spacingAndGlyphs" >21121.6</text>
<text x="1634" y="500.8" fill="#fff" textLength="32.8" lengthAdjust="spacingAndGlyphs" >20983.0</text>
<text x="1634" y="544.8" fill="#fff" textLength="32.8" lengthAdjust="spacingAndGlyphs" >20834.2</text>
<text x="1632.3" y="594.6" fill="#000" textLength="27.4" lengthAdjust="spacingAndGlyphs" >145.52</text>
<text x="1634" y="655.6" fill="#000" textLength="17.6" lengthAdjust="spacingAndGlyphs" >0.00</text>
<text x="1632" y="763.6" fill="#000" textLength="30.8" lengthAdjust="spacingAndGlyphs" >-252.54</text>
<text x="1632.3" y="779.6" fill="#000" textLength="14.6" lengthAdjust="spacingAndGlyphs" >100</text>
<text x="1634" y="805.6" fill="#000" textLength="9.6" lengthAdjust="spacingAndGlyphs" >80</text>
<text x="1634" y="852.6" fill="#000" textLength="9.6" lengthAdjust="spacingAndGlyphs" >50</text>
<text x="1632.3" y="908.6" fill="#000" textLength="9.4" lengthAdjust="spacingAndGlyphs" >15</text>
<text x="1634" y="925.6" fill="#000" textLength="4.6" lengthAdjust="spacingAndGlyphs" >0</text>
<g shape-rendering="crispEdges" clip-path="url(#cd)">
<rect x="0" y="595" width="1" height="58" fill="#c0c0c0"/>
<rect x="8" y="595" width="1" height="58" fill="#c0c0c0"/>
<rect x="16" y="596" width="1" height="57" fill="#c0c0c0"/>
<rect x="24" y="596" width="1" height="57" fill="#c0c0c0"/>
<rect x="32" y="599" width="1" height="54" fill="#c0c0c0"/>
<rect x="40" y="602" width="1" height="51" fill="#c0c0c0"/>
<rect x="48" y="605" width="1" height="48" fill="#c0c0c0"/>
<rect x="56" y="613" width="1" height="40" fill="#c0c0c0"/>
<rect x="64" y="619" width="1" height="34" fill="#c0c0c0"/>
<rect x="72" y="622" width="1" height="31" fill="#c0c0c0"/>
<rect x="80" y="622" width="1" height="31" fill="#c0c0c0"/>
<rect x="88" y="623" width="1" height="30" fill="#c0c0c0"/>
<rect x="96" y="625" width="1" height="28" fill="#c0c0c0"/>
<rect x="104" y="628" width="1" height="25" fill="#c0c0c0"/>
<rect x="112" y="631" width="1" height="22" fill="#c0c0c0"/>
<rect x="120" y="634" width="1" height="19" fill="#c0c0c0"/>
<rect x="128" y="636" width="1" height="17" fill="#c0c0c0"/>
<rect x="136" y="637" width="1" height="16" fill="#c0c0c0"/>
<rect x="144" y="639" width="1" height="14" fill="#c0c0c0"/>
<rect x="152" y="641" width="1" height="12" fill="#c0c0c0"/>
<rect x="160" y="641" width="1" height="12" fill="#c0c0c0"/>
<rect x="168" y="641" width="1" height="12" fill="#c0c0c0"/>
<rect x="176" y="641" width="1" height="12" fill="#c0c0c0"/>
<rect x="184" y="639" width="1" height="14" fill="#c0c0c0"/>
<rect x="192" y="639" width="1" height="14" fill="#c0c0c0"/>
<rect x="200" y="641" width="1" height="12" fill="#c0c0c0"/>
<rect x="208" y="642" width="1" height="11" fill="#c0c0c0"/>
<rect x="216" y="640" width="1" height="13" fill="#c0c0c0"/>
<rect x="224" y="638" width="1" height="15" fill="#c0c0c0"/>
<rect x="232" y="635" width="1" height="18" fill="#c0c0c0"/>
<rect x="240" y="633" width="1" height="20" fill="#c0c0c0"/>
<rect x="248" y="640" width="1" height="13" fill="#c0c0c0"/>
<rect x="256" y="642" width="1" height="11" fill="#c0c0c0"/>
<rect x="264" y="646" width="1" height="7" fill="#c0c0c0"/>
<rect x="272" y="647" width="1" height="6" fill="#c0c0c0"/>
<rect x="280" y="649" width="1" height="4" fill="#c0c0c0"/>
<rect x="288" y="651" width="1" height="2" fill="#c0c0c0"/>
<rect x="296" y="649" width="1" height="4" fill="#c0c0c0"/>
<rect x="304" y="648" width="1" height="5" fill="#c0c0c0"/>
<rect x="312" y="651" width="1" height="2" fill="#c0c0c0"/>
<rect x="320" y="651" width="1" height="2" fill="#c0c0c0"/>
<rect x="328" y="652" width="1" height="1" fill="#c0c0c0"/>
<rect x="336" y="652" width="1" height="2" fill="#c0c0c0"/>
<rect x="344" y="652" width="1" height="4" fill="#c0c0c0"/>
<rect x="352" y="651" width="1" height="2" fill="#c0c0c0"/>
<rect x="360" y="650" width="1" height="3" fill="#c0c0c0"/>
<rect x="368" y="648" width="1" height="5" fill="#c0c0c0"/>
<rect x="376" y="645" width="1" height="8" fill="#c0c0c0"/>
<rect x="384" y="642" width="1" height="11" fill="#c0c0c0"/>
<rect x="392" y="637" width="1" height="16" fill="#c0c0c0"/>
<rect x="400" y="636" width="1" height="17" fill="#c0c0c0"/>
<rect x="408" y="633" width="1" height="20" fill="#c0c0c0"/>
<rect x="416" y="630" width="1" height="23" fill="#c0c0c0"/>
<rect x="424" y="629" width="1" height="24" fill="#c0c0c0"/>
<rect x="432" y="630" width="1" height="23" fill="#c0c0c0"/>
<rect x="440" y="631" width="1" height="22" fill="#c0c0c0"/>
<rect x="448" y="633" width="1" height="20" fill="#c0c0c0"/>
<rect x="456" y="634" width="1" height="19" fill="#c0c0c0"/>
<rect x="464" y="635" width="1" height="18" fill="#c0c0c0"/>
<rect x="472" y="634" width="1" height="19" fill="#c0c0c0"/>
<rect x="480" y="634" width="1" height="19" fill="#c0c0c0"/>
<rect x="488" y="633" width="1" height="20" fill="#c0c0c0"/>
<rect x="496" y="633" width="1" height="20" fill="#c0c0c0"/>
<rect x="504" y="635" width="1" height="18" fill="#c0c0c0"/>
<rect x="512" y="637" width="1" height="16" fill="#c0c0c0"/>
<rect x="520" y="646" width="1" height="7" fill="#c0c0c0"/>
<rect x="528" y="652" width="1" height="2" fill="#c0c0c0"/>
<rect x="536" y="652" width="1" height="1" fill="#c0c0c0"/>
<rect x="544" y="652" width="1" height="1" fill="#c0c0c0"/>
<rect x="552" y="652" width="1" height="1" fill="#c0c0c0"/>
<rect x="560" y="652" width="1" height="5" fill="#c0c0c0"/>
<rect x="568" y="652" width="1" height="5" fill="#c0c0c0"/>
<rect x="576" y="652" width="1" height="5" fill="#c0c0c0"/>
<rect x="584" y="652" width="1" height="4" fill="#c0c0c0"/>
<rect x="592" y="651" width="1" height="2" fill="#c0c0c0"/>
<rect x="600" y="652" width="1" height="1" fill="#c0c0c0"/>
<rect x="608" y="647" width="1" height="6" fill="#c0c0c0"/>
<rect x="616" y="642" width="1" height="11" fill="#c0c0c0"/>
<rect x="624" y="652" width="1" height="2" fill="#c0c0c0"/>
<rect x="632" y="652" width="1" height="17" fill="#c0c0c0"/>
<rect x="640" y="652" width="1" height="25" fill="#c0c0c0"/>
<rect x="648" y="652" width="1" height="26" fill="#c0c0c0"/>
<rect x="656" y="652" width="1" height="24" fill="#c0c0c0"/>
<rect x="664" y="652" width="1" height="22" fill="#c0c0c0"/>
<rect x="672" y="652" width="1" height="23" fill="#c0c0c0"/>
<rect x="680" y="652" width="1" height="30" fill="#c0c0c0"/>
<rect x="688" y="652" width="1" height="36" fill="#c0c0c0"/>
<rect x="696" y="652" width="1" height="49" fill="#c0c0c0"/>
<rect x="704" y="652" width="1" height="63" fill="#c0c0c0"/>
<rect x="712" y="652" width="1" height="70" fill="#c0c0c0"/>
<rect x="720" y="652" width="1" height="76" fill="#c0c0c0"/>
<rect x="728" y="652" width="1" height="83" fill="#c0c0c0"/>
<rect x="736" y="652" width="1" height="88" fill="#c0c0c0"/>
<rect x="744" y="652" width="1" height="91" fill="#c0c0c0"/>
<rect x="752" y="652" width="1" height="93" fill="#c0c0c0"/>
<rect x="760" y="652" width="1" height="93" fill="#c0c0c0"/>
<rect x="768" y="652" width="1" height="92" fill="#c0c0c0"/>
<rect x="776" y="652" width="1" height="94" fill="#c0c0c0"/>
<rect x="784" y="652" width="1" height="99" fill="#c0c0c0"/>
<rect x="792" y="652" width="1" height="107" fill="#c0c0c0"/>
<rect x="800" y="652" width="1" height="106" fill="#c0c0c0"/>
<rect x="808" y="652" width="1" height="103" fill="#c0c0c0"/>
<rect x="816" y="652" width="1" height="100" fill="#c0c0c0"/>
<rect x="824" y="652" width="1" height="97" fill="#c0c0c0"/>
<rect x="832" y="652" width="1" height="92" fill="#c0c0c0"/>
<rect x="840" y="652" width="1" height="94" fill="#c0c0c0"/>
<rect x="848" y="652" width="1" height="86" fill="#c0c0c0"/>
<rect x="856" y="652" width="1" height="74" fill="#c0c0c0"/>
<rect x="864" y="652" width="1" height="77" fill="#c0c0c0"/>
<rect x="872" y="652" width="1" height="76" fill="#c0c0c0"/>
<rect x="880" y="652" width="1" height="79" fill="#c0c0c0"/>
<rect x="888" y="652" width="1" height="90" fill="#c0c0c0"/>
<rect x="896" y="652" width="1" height="94" fill="#c0c0c0"/>
<rect x="904" y="652" width="1" height="102" fill="#c0c0c0"/>
<rect x="912" y="652" width="1" height="107" fill="#c0c0c0"/>
<rect x="920" y="652" width="1" height="99" fill="#c0c0c0"/>
<rect x="928" y="652" width="1" height="89" fill="#c0c0c0"/>
<rect x="936" y="652" width="1" height="83" fill="#c0c0c0"/>
<rect x="944" y="652" width="1" height="74" fill="#c0c0c0"/>
<rect x="952" y="652" width="1" height="67" fill="#c0c0c0"/>
<rect x="960" y="652" width="1" height="61" fill="#c0c0c0"/>
<rect x="968" y="652" width="1" height="57" fill="#c0c0c0"/>
<rect x="976" y="652" width="1" height="56" fill="#c0c0c0"/>
<rect x="984" y="652" width="1" height="51" fill="#c0c0c0"/>
<rect x="992" y="652" width="1" height="44" fill="#c0c0c0"/>
<rect x="1000" y="652" width="1" height="39" fill="#c0c0c0"/>
<rect x="1008" y="652" width="1" height="34" fill="#c0c0c0"/>
<rect x="1016" y="652" width="1" height="34" fill="#c0c0c0"/>
<rect x="1024" y="652" width="1" height="29" fill="#c0c0c0"/>
<rect x="1032" y="652" width="1" height="20" fill="#c0c0c0"/>
<rect x="1040" y="652" width="1" height="14" fill="#c0c0c0"/>
<rect x="1048" y="652" width="1" height="10" fill="#c0c0c0"/>
<rect x="1056" y="652" width="1" height="5" fill="#c0c0c0"/>
<rect x="1064" y="652" width="1" height="3" fill="#c0c0c0"/>
<rect x="1072" y="652" width="1" height="3" fill="#c0c0c0"/>
<rect x="1080" y="652" width="1" height="2" fill="#c0c0c0"/>
<rect x="1088" y="649" width="1" height="4" fill="#c0c0c0"/>
<rect x="1096" y="651" width="1" height="2" fill="#c0c0c0"/>
<rect x="1104" y="647" width="1" height="6" fill="#c0c0c0"/>
<rect x="1112" y="645" width="1" height="8" fill="#c0c0c0"/>
<rect x="1120" y="652" width="1" height="2" fill="#c0c0c0"/>
<rect x="1128" y="652" width="1" height="2" fill="#c0c0c0"/>
<rect x="1136" y="652" width="1" height="5" fill="#c0c0c0"/>
<rect x="1144" y="652" width="1" height="7" fill="#c0c0c0"/>
<rect x="1152" y="652" width="1" height="5" fill="#c0c0c0"/>
<rect x="1160" y="652" width="1" height="2" fill="#c0c0c0"/>
<rect x="1168" y="651" width="1" height="2" fill="#c0c0c0"/>
<rect x="1176" y="646" width="1" height="7" fill="#c0c0c0"/>
<rect x="1184" y="641" width="1" height="12" fill="#c0c0c0"/>
<rect x="1192" y="639" width="1" height="14" fill="#c0c0c0"/>
<rect x="1200" y="636" width="1" height="17" fill="#c0c0c0"/>
<rect x="1208" y="636" width="1" height="17" fill="#c0c0c0"/>
<rect x="1216" y="637" width="1" height="16" fill="#c0c0c0"/>
<rect x="1224" y="642" width="1" height="11" fill="#c0c0c0"/>
<rect x="1232" y="643" width="1" height="10" fill="#c0c0c0"/>
<rect x="1240" y="646" width="1" height="7" fill="#c0c0c0"/>
<rect x="1248" y="650" width="1" height="3" fill="#c0c0c0"/>
<rect x="1256" y="652" width="1" height="2" fill="#c0c0c0"/>
<rect x="1264" y="652" width="1" height="13" fill="#c0c0c0"/>
<rect x="1272" y="652" width="1" height="20" fill="#c0c0c0"/>
<rect x="1280" y="652" width="1" height="31" fill="#c0c0c0"/>
<rect x="1288" y="652" width="1" height="38" fill="#c0c0c0"/>
<rect x="1296" y="652" width="1" height="40" fill="#c0c0c0"/>
<rect x="1304" y="652" width="1" height="38" fill="#c0c0c0"/>
<rect x="1312" y="652" width="1" height="31" fill="#c0c0c0"/>
<rect x="1320" y="652" width="1" height="28" fill="#c0c0c0"/>
<rect x="1328" y="652" width="1" height="24" fill="#c0c0c0"/>
<rect x="1336" y="652" width="1" height="21" fill="#c0c0c0"/>
<rect x="1344" y="652" width="1" height="17" fill="#c0c0c0"/>
<rect x="1352" y="652" width="1" height="13" fill="#c0c0c0"/>
<rect x="1360" y="652" width="1" height="8" fill="#c0c0c0"/>
<rect x="1368" y="652" width="1" height="5" fill="#c0c0c0"/>
<rect x="1376" y="652" width="1" height="2" fill="#c0c0c0"/>
<rect x="1384" y="650" width="1" height="3" fill="#c0c0c0"/>
<polyline points="0.5,595.5 33.1,595.5 50.7,597.6 73.2,604.3 98.3,613.1 113.3,620.6 130.9,626.9 151.0,632.4 176.0,636.9 186.1,639.4 216.1,639.9 233.7,638.9 263.8,639.4 288.9,641.4 308.9,646.2 331.5,649.5 351.6,652.0 371.6,651.5 391.7,649.0 400.5,646.2 409.3,645.2 416.8,641.4 425.6,639.4 433.1,637.7 440.6,634.9 448.1,633.2 454.4,631.9 483.2,631.9 500.8,633.2 515.8,634.9 525.9,637.7 540.9,640.7 558.5,645.2 571.0,650.2 581.0,653.2 593.6,655.0 608.6,653.7 618.7,653.0 632.4,653.2 642.5,657.0 651.3,659.5 663.8,662.0 673.8,664.5 681.3,669.5 688.9,674.5 697.6,680.8 705.2,684.6 713.9,690.8 724.0,697.9 734.0,705.4 746.5,717.9 756.6,726.7 766.6,732.7 776.6,738.0 789.2,743.0 799.2,747.8 800.5,748.0 815.5,750.3 848.1,750.5 858.2,747.3 873.2,739.7 888.3,737.2 900.8,737.2 913.3,739.0 923.4,741.7 951.0,742.2 963.5,736.5 976.0,729.7 986.1,722.2 996.1,714.7 1008.6,705.1 1021.2,698.4 1033.7,692.1 1046.2,684.6 1058.8,676.3 1071.3,669.5 1088.9,660.7 1106.4,654.5 1121.5,651.5 1139.0,651.2 1146.5,652.5 1176.6,653.0 1199.2,649.5 1200.5,649.4 1209.0,645.7 1217.5,642.9 1228.9,641.2 1251.5,640.9 1260.1,643.5 1268.6,647.1 1277.1,652.0 1285.6,657.6 1294.1,663.3 1302.6,669.8 1313.9,676.9 1325.3,679.8 1336.6,681.7 1345.1,681.7 1356.5,678.9 1365.0,674.9 1373.5,670.7 1384.3,665.6" fill="none" stroke="#ff0000" stroke-width="1" stroke-dasharray="3,3"/>
</g>
<text x="4.5" y="596.6" fill="#000" textLength="115.4" lengthAdjust="spacingAndGlyphs" >MACD(12,26,9) 5.06 -27.01</text>
<g shape-rendering="crispEdges">
<line x1="1" y1="802.5" x2="1628" y2="802.5" stroke="#c0c0c0" stroke-width="1" stroke-dasharray="3,3"/>
<line x1="1" y1="849.5" x2="1628" y2="849.5" stroke="#c0c0c0" stroke-width="1" stroke-dasharray="3,3"/>
<line x1="1" y1="905.5" x2="1628" y2="905.5" stroke="#c0c0c0" stroke-width="1" stroke-dasharray="3,3"/>
<polyline clip-path="url(#cr)" points="0.5,813.6 8.5,811.9 16.5,808.6 24.5,813.6 32.5,818.2 40.5,820.7 48.5,819.4 56.5,853.8 64.5,845.7 72.5,839.5 80.5,832.7 88.5,834.5 96.5,838.7 104.5,845.7 112.5,845.7 120.5,845.7 128.5,844.7 136.5,844.7 144.5,843.7 152.5,847.7 160.5,840.0 168.5,838.7 176.5,837.0 184.5,828.9 192.5,838.2 200.5,847.7 208.5,843.2 216.5,832.7 224.5,828.2 232.5,822.7 240.5,825.7 248.5,863.8 256.5,851.3 264.5,857.0 272.5,850.8 280.5,855.0 288.5,853.8 296.5,843.7 304.5,845.2 312.5,855.8 320.5,851.3 328.5,850.8 336.5,857.8 344.5,860.3 352.5,843.2 360.5,841.5 368.5,840.0 376.5,836.2 384.5,833.2 392.5,826.9 400.5,837.0 408.5,831.2 416.5,827.7 424.5,835.7 432.5,838.7 440.5,842.7 448.5,840.7 456.5,842.7 464.5,844.0 472.5,833.7 480.5,837.0 488.5,831.2 496.5,840.7 504.5,851.5 512.5,846.2 520.5,869.6 528.5,865.3 536.5,852.8 544.5,850.8 552.5,852.0 560.5,858.8 568.5,852.0 576.5,853.8 584.5,852.8 592.5,848.2 600.5,838.2 608.5,833.2 616.5,831.2 624.5,873.8 632.5,880.1 640.5,872.1 648.5,860.3 656.5,852.8 664.5,854.5 672.5,859.5 680.5,869.6 688.5,870.8 696.5,882.1 704.5,887.1 712.5,878.8 720.5,880.8 728.5,882.9 736.5,883.9 744.5,885.9 752.5,879.1 760.5,880.8 768.5,882.1 776.5,886.6 784.5,888.9 792.5,895.9 800.5,877.1 808.5,877.1 816.5,870.8 824.5,877.1 832.5,868.8 840.5,880.1 848.5,858.3 856.5,854.5 864.5,867.8 872.5,865.8 880.5,869.6 888.5,879.1 896.5,874.6 904.5,878.8 912.5,880.1 920.5,860.3 928.5,858.8 936.5,860.0 944.5,858.3 952.5,857.0 960.5,857.8 968.5,860.0 976.5,865.0 984.5,857.0 992.5,853.8 1000.5,851.5 1008.5,853.3 1016.5,860.8 1024.5,849.5 1032.5,843.7 1040.5,845.0 1048.5,847.0 1056.5,847.0 1064.5,847.0 1072.5,850.8 1080.5,843.7 1088.5,845.2 1096.5,850.8 1104.5,845.2 1112.5,844.0 1120.5,860.3 1128.5,857.0 1136.5,860.8 1144.5,854.5 1152.5,850.3 1160.5,842.0 1168.5,840.7 1176.5,838.2 1184.5,837.0 1192.5,838.2 1200.5,835.0 1208.5,843.5 1216.5,844.9 1224.5,854.8 1232.5,851.4 1240.5,854.8 1248.5,859.7 1256.5,863.3 1264.5,879.8 1272.5,875.5 1280.5,884.6 1288.5,878.9 1296.5,873.3 1304.5,859.1 1312.5,846.9 1320.5,855.7 1328.5,852.0 1336.5,850.6 1344.5,847.2 1352.5,846.9 1360.5,844.1 1368.5,843.5 1376.5,842.1 1384.5,840.7" fill="none" stroke="#1e90ff" stroke-width="1" />
</g>
<text x="4.5" y="781.6" fill="#000" textLength="67.5" lengthAdjust="spacingAndGlyphs" >RSI(14) 56.0958</text>
<g shape-rendering="crispEdges">
<rect x="0" y="930" width="1" height="3" fill="#000"/>
<rect x="64" y="930" width="1" height="3" fill="#000"/>
<rect x="128" y="930" width="1" height="3" fill="#000"/>
<rect x="192" y="930" width="1" height="3" fill="#000"/>
<rect x="256" y="930" width="1" height="3" fill="#000"/>
<rect x="320" y="930" width="1" height="3" fill="#000"/>
<rect x="384" y="930" width="1" height="3" fill="#000"/>
<rect x="448" y="930" width="1" height="3" fill="#000"/>
<rect x="512" y="930" width="1" height="3" fill="#000"/>
<rect x="576" y="930" width="1" height="3" fill="#000"/>
<rect x="640" y="930" width="1" height="3" fill="#000"/>
<rect x="704" y="930" width="1" height="3" fill="#000"/>
<rect x="768" y="930" width="1" height="3" fill="#000"/>
<rect x="832" y="930" width="1" height="3" fill="#000"/>
<rect x="896" y="930" width="1" height="3" fill="#000"/>
<rect x="960" y="930" width="1" height="3" fill="#000"/>
<rect x="1024" y="930" width="1" height="3" fill="#000"/>
<rect x="1088" y="930" width="1" height="3" fill="#000"/>
<rect x="1152" y="930" width="1" height="3" fill="#000"/>
<rect x="1216" y="930" width="1" height="3" fill="#000"/>
<rect x="1280" y="930" width="1" height="3" fill="#000"/>
<rect x="1344" y="930" width="1" height="3" fill="#000"/>
</g>
<text x="-0.5" y="941.8" fill="#000" textLength="51.5" lengthAdjust="spacingAndGlyphs" >16 Apr 2019</text>
<text x="63.5" y="941.8" fill="#000" textLength="54.2" lengthAdjust="spacingAndGlyphs" >18 Apr 04:00</text>
<text x="127.5" y="941.8" fill="#000" textLength="54.2" lengthAdjust="spacingAndGlyphs" >19 Apr 14:55</text>
<text x="191.5" y="941.8" fill="#000" textLength="54.2" lengthAdjust="spacingAndGlyphs" >22 Apr 23:30</text>
<text x="255.5" y="941.8" fill="#000" textLength="54.2" lengthAdjust="spacingAndGlyphs" >24 Apr 04:00</text>
<text x="319.5" y="941.8" fill="#000" textLength="54.2" lengthAdjust="spacingAndGlyphs" >25 Apr 14:55</text>
<text x="383.5" y="941.8" fill="#000" textLength="54.2" lengthAdjust="spacingAndGlyphs" >28 Apr 23:30</text>
<text x="447.5" y="941.8" fill="#000" textLength="54.2" lengthAdjust="spacingAndGlyphs" >30 Apr 04:00</text>
<text x="511.5" y="941.8" fill="#000" textLength="52.6" lengthAdjust="spacingAndGlyphs" >1 May 14:55</text>
<text x="575.5" y="941.8" fill="#000" textLength="52.6" lengthAdjust="spacingAndGlyphs" >2 May 23:30</text>
<text x="639.5" y="941.8" fill="#000" textLength="52.6" lengthAdjust="spacingAndGlyphs" >6 May 04:00</text>
<text x="703.5" y="941.8" fill="#000" textLength="52.6" lengthAdjust="spacingAndGlyphs" >7 May 14:55</text>
<text x="767.5" y="941.8" fill="#000" textLength="52.6" lengthAdjust="spacingAndGlyphs" >8 May 23:30</text>
<text x="831.5" y="941.8" fill="#000" textLength="57.9" lengthAdjust="spacingAndGlyphs" >10 May 04:00</text>
<text x="895.5" y="941.8" fill="#000" textLength="57.9" lengthAdjust="spacingAndGlyphs" >13 May 14:55</text>
<text x="959.5" y="941.8" fill="#000" textLength="57.9" lengthAdjust="spacingAndGlyphs" >14 May 23:30</text>
<text x="1023.5" y="941.8" fill="#000" textLength="57.9" lengthAdjust="spacingAndGlyphs" >16 May 04:00</text>
<text x="1087.5" y="941.8" fill="#000" textLength="57.9" lengthAdjust="spacingAndGlyphs" >17 May 14:55</text>
<text x="1151.5" y="941.8" fill="#000" textLength="57.9" lengthAdjust="spacingAndGlyphs" >20 May 23:30</text>
<text x="1215.5" y="941.8" fill="#000" textLength="57.9" lengthAdjust="spacingAndGlyphs" >22 May 04:00</text>
<text x="1279.5" y="941.8" fill="#000" textLength="57.9" lengthAdjust="spacingAndGlyphs" >23 May 14:55</text>
<text x="1343.5" y="941.8" fill="#000" textLength="57.9" lengthAdjust="spacingAndGlyphs" >26 May 23:30</text>
<path d="M3 40.4 L10 40.4 L6.5 36.2 Z" fill="#000"/>
<text x="15" y="40.8" fill="#000" textLength="197" lengthAdjust="spacingAndGlyphs" xml:space="preserve">JPN225-,H4&#160; 21197.5 21222.5 21197.5 21220.0</text>
<g shape-rendering="crispEdges" fill="#c0c0c0"><rect x="1394" y="30" width="9" height="1"/><rect x="1395" y="31" width="7" height="1"/><rect x="1396" y="32" width="5" height="1"/><rect x="1397" y="33" width="3" height="1"/><rect x="1398" y="34" width="1" height="1"/></g>
</svg>
<div style="position:absolute;left:55px;top:49px;width:115px;height:24px;background:#fff"></div>
<div style="position:absolute;left:112px;top:73px;width:2px;height:40px;background:#fff"></div>
<div style="position:absolute;left:222px;top:47px;width:2px;height:68px;background:#fff"></div>
<div style="position:absolute;left:3px;top:113px;width:221px;height:2px;background:#fff"></div>
<div id="panel">
<div class="pb sellt" style="left:3px;top:49px;width:52px;height:24px"></div>
<div class="pb sellt" style="left:170px;top:49px;width:52px;height:24px"></div>
<div class="pb low" style="left:3px;top:73px;width:109px;height:40px"></div>
<div class="pb low" style="left:114px;top:73px;width:108px;height:40px"></div>
<div style="position:absolute;left:7px;top:72px;width:44px;height:1px;background:#a81010"></div>
<div style="position:absolute;left:7px;top:73px;width:44px;height:1px;background:#f47a7a"></div>
<div style="position:absolute;left:174px;top:72px;width:44px;height:1px;background:#a81010"></div>
<div style="position:absolute;left:174px;top:73px;width:44px;height:1px;background:#f47a7a"></div>
<div style="position:absolute;left:57px;top:49px;width:111px;height:22px;box-sizing:border-box;border:1px solid #abadb3;background:#fff"></div>
<div style="position:absolute;left:58px;top:50px;width:20px;height:20px;background:#ebebeb;border-right:1px solid #abadb3"></div>
<div style="position:absolute;left:146px;top:50px;width:21px;height:20px;background:#ebebeb;border-left:1px solid #abadb3;box-sizing:border-box"></div>
<svg style="position:absolute;left:0;top:0" width="230" height="120" viewBox="0 0 230 120" font-family="Liberation Sans, sans-serif">
<path d="M64.5 58 L70.5 58 L67.5 61.5 Z" fill="#000"/>
<path d="M153.5 61.5 L159.5 61.5 L156.5 58 Z" fill="#000"/>
<text x="15.2" y="64.9" font-size="11.6px" fill="#fff" textLength="25.8" lengthAdjust="spacingAndGlyphs">SELL</text>
<text x="183.6" y="64.9" font-size="11.6px" fill="#fff" textLength="22.8" lengthAdjust="spacingAndGlyphs">BUY</text>
<text x="120.2" y="64.6" font-size="11.6px" fill="#1a1a1a" textLength="22.5" lengthAdjust="spacingAndGlyphs">1.00</text>
<text x="19" y="103.8" font-size="11.8px" font-weight="bold" fill="#fff" textLength="35.2" lengthAdjust="spacingAndGlyphs">21218</text>
<text x="129" y="103.8" font-size="11.8px" font-weight="bold" fill="#fff" textLength="33.8" lengthAdjust="spacingAndGlyphs">21241</text>
<rect x="58.2" y="100.2" width="3.6" height="3.6" rx="1" fill="#fff"/>
<rect x="169.6" y="100.2" width="3.6" height="3.6" rx="1" fill="#fff"/>
<text x="65.2" y="104" font-size="32.4px" fill="#fff" textLength="15.4" lengthAdjust="spacingAndGlyphs">5</text>
<text x="176.6" y="104" font-size="32.4px" fill="#fff" textLength="15.4" lengthAdjust="spacingAndGlyphs">5</text>
</svg>
</div>
<svg id="tb" width="1675" height="29" viewBox="0 0 1675 29" style="position:absolute;left:0;top:0" font-family="Liberation Sans, sans-serif">
<defs><pattern id="dots" width="2" height="2" patternUnits="userSpaceOnUse"><rect width="2" height="2" fill="#f0f0f0"/><rect width="1" height="1" fill="#fff"/><rect x="1" y="1" width="1" height="1" fill="#fff"/></pattern><linearGradient id="gold" x1="0" y1="0" x2="1" y2="1"><stop offset="0" stop-color="#f6d860"/><stop offset="1" stop-color="#c8921a"/></linearGradient><linearGradient id="blu" x1="0" y1="0" x2="0" y2="1"><stop offset="0" stop-color="#58b0f0"/><stop offset="1" stop-color="#1a60c8"/></linearGradient><linearGradient id="grn" x1="0" y1="0" x2="0" y2="1"><stop offset="0" stop-color="#60e860"/><stop offset="1" stop-color="#10a010"/></linearGradient><radialGradient id="lens" cx="0.4" cy="0.35" r="0.7"><stop offset="0" stop-color="#fff"/><stop offset="1" stop-color="#b8dcf0"/></radialGradient></defs>
<rect x="0" y="0" width="1675" height="25" fill="#f0f0f0"/>
<g shape-rendering="crispEdges"><rect x="0" y="24" width="1675" height="1" fill="#ececec"/><rect x="0" y="25" width="1675" height="1" fill="#a8a8a8"/><rect x="0" y="26" width="1675" height="1" fill="#696969"/><rect x="0" y="27" width="1675" height="2" fill="#fff"/></g>
<path d="M-1 5.5 H7.5 L10.5 8.5 V18.5 H-1 Z" fill="#fff" stroke="#9a9a9a" stroke-width="0.8"/><path d="M1.5 8.5 H5 M1.5 11 H7 M1.5 13.5 H5" stroke="#a8a8a8" stroke-width="1"/><path d="M7.4 11.8 H10.9 V15.6 H14.7 V19.2 H10.9 V23 H7.4 V19.2 H3.6 V15.6 H7.4 Z" fill="url(#grn)" stroke="#0a8a0a" stroke-width="0.7"/>
<text x="17.8" y="16.1" font-family="Liberation Sans, Noto Sans CJK SC, sans-serif" font-size="12px" fill="#000" stroke="#000" stroke-width="0.26">新订单</text>
<path d="M66 14.2 L74.6 19 L82 12.8 L82.2 14.8 L74.6 21 L65.8 16 Z" fill="#a8700e"/><path d="M67 15.4 L74.6 19.9 L81.6 14" fill="none" stroke="#f0dc90" stroke-width="0.7"/><path d="M71 6.2 L82 12.8 L74.6 19 L66 14.2 Z" fill="url(#gold)" stroke="#b8860f" stroke-width="0.6"/><path d="M71.2 7.4 L68 13.6" stroke="#fff4b8" stroke-width="1.1"/>
<path d="M96.5 6.5 L100 5 H106 V15 H96.5 Z" fill="url(#blu)" stroke="#1a58b8" stroke-width="0.6"/><path d="M99.5 7.5 H105.5 V14 H99.5 Z" fill="#8fd0ff"/><path d="M100.5 9.5 H104.5" stroke="#fff" stroke-width="1"/><path d="M96.8 20.5 A3 3 0 0 1 97.2 14.8 A3.6 3.6 0 0 1 103.8 14.2 A3 3 0 0 1 108.6 15.8 A2.5 2.5 0 0 1 107.8 20.5 Z" fill="#e8eef8" stroke="#6a88c0" stroke-width="0.9"/>
<circle cx="130" cy="13" r="7.2" fill="none" stroke="#9ab4e0" stroke-width="1"/><circle cx="130" cy="13" r="4.8" fill="none" stroke="#5a82d0" stroke-width="1.1"/><circle cx="130" cy="12.6" r="2" fill="#2a5ad0"/><path d="M130.5 13 V20.6 A7.6 7.6 0 0 0 137.4 14" fill="#7cc47c" fill-opacity="0.55" stroke="none"/><path d="M130.6 13 V20.6" stroke="#18a030" stroke-width="1.4"/><path d="M130.6 20.4 A7.4 7.4 0 0 0 137.3 14.5" fill="none" stroke="#38a848" stroke-width="1.2"/>
<path d="M150 13.5 L163 13.5 L156.5 20.5 Z" fill="#f8d848" stroke="#d0a020" stroke-width="0.7"/><ellipse cx="157" cy="10.4" rx="7.8" ry="2.6" fill="#58a8e0" stroke="#2a78b8" stroke-width="0.6"/><path d="M153.2 9.8 A3.8 4.6 0 0 1 160.8 9.8 Z" fill="#78c0f0" stroke="#2a78b8" stroke-width="0.6"/><circle cx="161.4" cy="16.8" r="3.9" fill="#e02010"/><rect x="159.9" y="15.3" width="3" height="3" fill="#fff"/>
<text x="170.3" y="16.1" font-family="Liberation Sans, Noto Sans CJK SC, sans-serif" font-size="12px" letter-spacing="-0.2" fill="#000" stroke="#000" stroke-width="0.26">自动交易</text>
<rect x="225" y="0" width="1" height="25" fill="#a0a0a0" shape-rendering="crispEdges"/><rect x="226" y="0" width="1" height="25" fill="#fff" shape-rendering="crispEdges"/>
<g shape-rendering="crispEdges"><rect x="229" y="3" width="3" height="1" fill="#a0a0a0"/><rect x="229" y="5" width="3" height="1" fill="#a0a0a0"/><rect x="229" y="7" width="3" height="1" fill="#a0a0a0"/><rect x="229" y="9" width="3" height="1" fill="#a0a0a0"/><rect x="229" y="11" width="3" height="1" fill="#a0a0a0"/><rect x="229" y="13" width="3" height="1" fill="#a0a0a0"/><rect x="229" y="15" width="3" height="1" fill="#a0a0a0"/><rect x="229" y="17" width="3" height="1" fill="#a0a0a0"/><rect x="229" y="19" width="3" height="1" fill="#a0a0a0"/><rect x="229" y="21" width="3" height="1" fill="#a0a0a0"/></g>
<g stroke="#505050" stroke-width="1" fill="none" shape-rendering="crispEdges"><path d="M243.5 8 V21 M241 18.5 H254"/></g><path d="M241.9 9.6 L243.5 7.2 L245.1 9.6 Z" fill="#505050"/><path d="M252.4 16.9 L254.8 18.5 L252.4 20.1 Z" fill="#505050"/>
<path d="M250.5 8.5 V16.5 M250.5 9.5 H252.5 M248 15.5 H250.5" stroke="#109010" stroke-width="1.3" fill="none"/>
<rect x="263" y="1" width="25" height="22" fill="url(#dots)" shape-rendering="crispEdges"/><rect x="263" y="1" width="25" height="1" fill="#a0a0a0" shape-rendering="crispEdges"/><rect x="263" y="1" width="1" height="22" fill="#a0a0a0" shape-rendering="crispEdges"/><rect x="287" y="1" width="1" height="22" fill="#fff" shape-rendering="crispEdges"/><rect x="263" y="22" width="25" height="1" fill="#fff" shape-rendering="crispEdges"/>
<g stroke="#505050" stroke-width="1" fill="none" shape-rendering="crispEdges"><path d="M271.5 8 V21 M269 18.5 H282"/></g><path d="M269.9 9.6 L271.5 7.2 L273.1 9.6 Z" fill="#505050"/><path d="M280.4 16.9 L282.8 18.5 L280.4 20.1 Z" fill="#505050"/>
<path d="M277.5 5.5 V17" stroke="#109010" stroke-width="1.2"/><rect x="275.3" y="7.6" width="4.4" height="7" fill="#50e050" stroke="#109010" stroke-width="0.9"/>
<g stroke="#505050" stroke-width="1" fill="none" shape-rendering="crispEdges"><path d="M299.5 8 V21 M297 18.5 H310"/></g><path d="M297.9 9.6 L299.5 7.2 L301.1 9.6 Z" fill="#505050"/><path d="M308.4 16.9 L310.8 18.5 L308.4 20.1 Z" fill="#505050"/>
<path d="M298.5 15.5 Q303 8 305.5 11 T310 14" stroke="#30a030" stroke-width="1.2" fill="none"/>
<rect x="320" y="2" width="1" height="21" fill="#a0a0a0" shape-rendering="crispEdges"/>
<path d="M339 15 L344 20" stroke="#c8a018" stroke-width="2.6" stroke-linecap="round"/><path d="M339.2 14.6 L343.8 19.2" stroke="#f4dc70" stroke-width="0.9"/><circle cx="335" cy="11" r="5.4" fill="url(#lens)" stroke="#2a74c8" stroke-width="1.1"/><path d="M332 11 H338" stroke="#3a7ab0" stroke-width="1.6"/><path d="M335 8 V14" stroke="#3a7ab0" stroke-width="1.6"/>
<path d="M367 15 L372 20" stroke="#c8a018" stroke-width="2.6" stroke-linecap="round"/><path d="M367.2 14.6 L371.8 19.2" stroke="#f4dc70" stroke-width="0.9"/><circle cx="363" cy="11" r="5.4" fill="url(#lens)" stroke="#2a74c8" stroke-width="1.1"/><path d="M360 11 H366" stroke="#3a7ab0" stroke-width="1.6"/>
<rect x="385" y="5" width="7.8" height="7.6" fill="#46a61a"/><rect x="385.8" y="5.8" width="1" height="1" fill="#fff"/><rect x="386" y="7.6" width="5.8" height="4" rx="0.6" fill="#fff"/><rect x="386.6" y="9.2" width="4.6" height="0.9" fill="#8fd460"/>
<rect x="393.4" y="5" width="7.8" height="7.6" fill="#2c5ed8"/><rect x="394.2" y="5.8" width="1" height="1" fill="#fff"/><rect x="394.4" y="7.6" width="5.8" height="4" rx="0.6" fill="#fff"/><rect x="395.0" y="9.2" width="4.6" height="0.9" fill="#7aa4f4"/>
<rect x="385" y="13" width="7.8" height="7.6" fill="#2c5ed8"/><rect x="385.8" y="13.8" width="1" height="1" fill="#fff"/><rect x="386" y="15.6" width="5.8" height="4" rx="0.6" fill="#fff"/><rect x="386.6" y="17.2" width="4.6" height="0.9" fill="#7aa4f4"/>
<rect x="393.4" y="13" width="7.8" height="7.6" fill="#46a61a"/><rect x="394.2" y="13.8" width="1" height="1" fill="#fff"/><rect x="394.4" y="15.6" width="5.8" height="4" rx="0.6" fill="#fff"/><rect x="395.0" y="17.2" width="4.6" height="0.9" fill="#8fd460"/>
<rect x="410" y="2" width="1" height="21" fill="#a0a0a0" shape-rendering="crispEdges"/>
<rect x="415" y="1" width="25" height="22" fill="url(#dots)" shape-rendering="crispEdges"/><rect x="415" y="1" width="25" height="1" fill="#a0a0a0" shape-rendering="crispEdges"/><rect x="415" y="1" width="1" height="22" fill="#a0a0a0" shape-rendering="crispEdges"/><rect x="439" y="1" width="1" height="22" fill="#fff" shape-rendering="crispEdges"/><rect x="415" y="22" width="25" height="1" fill="#fff" shape-rendering="crispEdges"/>
<g stroke="#505050" stroke-width="1" fill="none" shape-rendering="crispEdges"><path d="M422.5 8 V21 M420 18.5 H433"/></g><path d="M420.9 9.6 L422.5 7.2 L424.1 9.6 Z" fill="#505050"/><path d="M431.4 16.9 L433.8 18.5 L431.4 20.1 Z" fill="#505050"/>
<path d="M428 8 L431.6 11.2 L428 14.6 Z" fill="#30c030" stroke="#109010" stroke-width="0.8"/>
<rect x="443" y="1" width="25" height="22" fill="url(#dots)" shape-rendering="crispEdges"/><rect x="443" y="1" width="25" height="1" fill="#a0a0a0" shape-rendering="crispEdges"/><rect x="443" y="1" width="1" height="22" fill="#a0a0a0" shape-rendering="crispEdges"/><rect x="467" y="1" width="1" height="22" fill="#fff" shape-rendering="crispEdges"/><rect x="443" y="22" width="25" height="1" fill="#fff" shape-rendering="crispEdges"/>
<g stroke="#505050" stroke-width="1" fill="none" shape-rendering="crispEdges"><path d="M450.5 8 V21 M448 18.5 H461"/></g><path d="M448.9 9.6 L450.5 7.2 L452.1 9.6 Z" fill="#505050"/><path d="M459.4 16.9 L461.8 18.5 L459.4 20.1 Z" fill="#505050"/>
<path d="M457.5 6.5 V16.5" stroke="#1a6a9a" stroke-width="1.3"/><path d="M458.6 12 H463 M460.6 9.8 L458.6 12 L460.6 14.2" stroke="#d84010" stroke-width="1.1" fill="none"/>
<rect x="472" y="2" width="1" height="21" fill="#a0a0a0" shape-rendering="crispEdges"/>
<path d="M482.5 6 H490 L493 9 V18 H482.5 Z" fill="#fff" stroke="#9a9a9a" stroke-width="0.8"/><path d="M485.5 9 Q484 9 484.6 11 Q484.6 12.6 483.6 13 Q484.6 13.4 484.6 15 Q484 17 485.5 17" stroke="#888" stroke-width="0.8" fill="none"/><path d="M490.4 11.4 H493.8 V15 H497.8 V18.6 H493.8 V22.4 H490.4 V18.6 H486.6 V15 H490.4 Z" fill="url(#grn)" stroke="#0a8a0a" stroke-width="0.7"/>
<path d="M504 12 L509.4 12 L506.7 15 Z" fill="#000"/>
<circle cx="528" cy="13" r="7.3" fill="#fff" stroke="#1a58c8" stroke-width="2.2"/><circle cx="528" cy="13" r="5.6" fill="#f4f6fa" stroke="#7aa8e8" stroke-width="0.6"/><path d="M528 9 V13.2 H531" stroke="#444" stroke-width="1.1" fill="none"/>
<path d="M543 12 L548.4 12 L545.7 15 Z" fill="#000"/>
<rect x="559" y="6.3" width="16" height="13.6" fill="#fff" stroke="#2a68c8" stroke-width="1"/><rect x="559" y="6.3" width="16" height="2.2" fill="#4a90e8"/><path d="M559 13.4 H575" stroke="#2a68c8" stroke-width="0.9"/><path d="M561 12 L564 10.6 L566.5 11.2 L569 10 L571 10.6 L573.4 9.6" stroke="#a02010" stroke-width="1.1" fill="none"/><path d="M561 17.6 L563.6 16.4 L565.6 17.2 L568.6 15 L570.4 16.8 L573.4 15.8" stroke="#109020" stroke-width="1.1" fill="none"/>
<path d="M581.7 12 L587.1 12 L584.4000000000001 15 Z" fill="#000"/>
<rect x="593" y="0" width="1" height="25" fill="#a0a0a0" shape-rendering="crispEdges"/><rect x="594" y="0" width="1" height="25" fill="#fff" shape-rendering="crispEdges"/>
<g shape-rendering="crispEdges"><rect x="597" y="3" width="3" height="1" fill="#a0a0a0"/><rect x="597" y="5" width="3" height="1" fill="#a0a0a0"/><rect x="597" y="7" width="3" height="1" fill="#a0a0a0"/><rect x="597" y="9" width="3" height="1" fill="#a0a0a0"/><rect x="597" y="11" width="3" height="1" fill="#a0a0a0"/><rect x="597" y="13" width="3" height="1" fill="#a0a0a0"/><rect x="597" y="15" width="3" height="1" fill="#a0a0a0"/><rect x="597" y="17" width="3" height="1" fill="#a0a0a0"/><rect x="597" y="19" width="3" height="1" fill="#a0a0a0"/><rect x="597" y="21" width="3" height="1" fill="#a0a0a0"/></g>
<rect x="603" y="1" width="25" height="22" fill="url(#dots)" shape-rendering="crispEdges"/><rect x="603" y="1" width="25" height="1" fill="#a0a0a0" shape-rendering="crispEdges"/><rect x="603" y="1" width="1" height="22" fill="#a0a0a0" shape-rendering="crispEdges"/><rect x="627" y="1" width="1" height="22" fill="#fff" shape-rendering="crispEdges"/><rect x="603" y="22" width="25" height="1" fill="#fff" shape-rendering="crispEdges"/>
<path d="M611 5.8 V18 L613.8 15.2 L616 20 L617.8 19.2 L615.6 14.6 H619.4 Z" fill="#505050"/>
<path d="M643.5 6 V11.5 M643.5 15.5 V20.8 M635.8 13.5 H641.5 M645.5 13.5 H651.2" stroke="#505050" stroke-width="1.1"/><rect x="643" y="13" width="1" height="1" fill="#505050"/>
<rect x="660" y="2" width="1" height="21" fill="#a0a0a0" shape-rendering="crispEdges"/>
<path d="M677.4 7.2 V19.8" stroke="#505050" stroke-width="1.2"/>
<path d="M700 13.5 H712" stroke="#505050" stroke-width="1.2"/>
<path d="M727.8 20 L740 8" stroke="#505050" stroke-width="1.1"/>
<g stroke="#505050" stroke-width="0.9" fill="none"><path d="M754 15.5 L766.5 7 M755.5 19.5 L768 11 M757.5 17.5 L764.5 12.8"/><path d="M757 12.5 L759.2 19 M760.2 10.5 L762.4 17 M763.6 8.6 L765.6 14.6" stroke-width="0.7"/></g><text x="765" y="22" font-size="6.5px" font-weight="bold" fill="#404040">E</text>
<g stroke="#606060" stroke-width="1" stroke-dasharray="1,1" shape-rendering="crispEdges"><path d="M783 6.5 H797 M783 9.5 H797 M783 13.5 H797 M783 17.5 H792"/></g><text x="793" y="21.6" font-size="6.5px" font-weight="bold" fill="#404040">F</text>
<text x="813.6" y="17.8" font-size="12.4px" fill="#505050" stroke="#505050" stroke-width="0.45" textLength="8.6" lengthAdjust="spacingAndGlyphs">A</text>
<rect x="840.5" y="7.5" width="11" height="12" fill="none" stroke="#606060" stroke-width="1" stroke-dasharray="1,1" shape-rendering="crispEdges"/><path d="M842.6 10.2 H849.4 M846 10.2 V17.6" stroke="#505050" stroke-width="1.6" fill="none"/>
<path d="M867.4 10.4 L870.6 7 L873.8 10.4 L870.6 11.6 Z" fill="#505050"/><path d="M874.4 16 L880.8 16 L877.6 19.8 Z" fill="#505050"/><path d="M869.4 13.6 L871.6 15.8 L875.6 10.8" stroke="#505050" stroke-width="1.2" fill="none"/>
<path d="M888 12 L893.4 12 L890.7 15 Z" fill="#000"/>
<rect x="899" y="0" width="1" height="25" fill="#a0a0a0" shape-rendering="crispEdges"/><rect x="900" y="0" width="1" height="25" fill="#fff" shape-rendering="crispEdges"/>
<g shape-rendering="crispEdges"><rect x="903" y="3" width="3" height="1" fill="#a0a0a0"/><rect x="903" y="5" width="3" height="1" fill="#a0a0a0"/><rect x="903" y="7" width="3" height="1" fill="#a0a0a0"/><rect x="903" y="9" width="3" height="1" fill="#a0a0a0"/><rect x="903" y="11" width="3" height="1" fill="#a0a0a0"/><rect x="903" y="13" width="3" height="1" fill="#a0a0a0"/><rect x="903" y="15" width="3" height="1" fill="#a0a0a0"/><rect x="903" y="17" width="3" height="1" fill="#a0a0a0"/><rect x="903" y="19" width="3" height="1" fill="#a0a0a0"/><rect x="903" y="21" width="3" height="1" fill="#a0a0a0"/></g>
<rect x="1049" y="1" width="25" height="22" fill="url(#dots)" shape-rendering="crispEdges"/><rect x="1049" y="1" width="25" height="1" fill="#a0a0a0" shape-rendering="crispEdges"/><rect x="1049" y="1" width="1" height="22" fill="#a0a0a0" shape-rendering="crispEdges"/><rect x="1073" y="1" width="1" height="22" fill="#fff" shape-rendering="crispEdges"/><rect x="1049" y="22" width="25" height="1" fill="#fff" shape-rendering="crispEdges"/>
<text x="914.1" y="16.7" font-size="9.4px" fill="#404040" textLength="13.4" lengthAdjust="spacingAndGlyphs">M1</text>
<text x="942.1" y="16.7" font-size="9.4px" fill="#404040" textLength="13.2" lengthAdjust="spacingAndGlyphs">M5</text>
<text x="968.0" y="16.7" font-size="9.4px" fill="#404040" textLength="18.5" lengthAdjust="spacingAndGlyphs">M15</text>
<text x="996.1" y="16.7" font-size="9.4px" fill="#404040" textLength="18.3" lengthAdjust="spacingAndGlyphs">M30</text>
<text x="1027.0" y="16.7" font-size="9.4px" fill="#404040" textLength="12.5" lengthAdjust="spacingAndGlyphs">H1</text>
<text x="1054.1" y="16.7" font-size="9.4px" fill="#404040" textLength="13.2" lengthAdjust="spacingAndGlyphs">H4</text>
<text x="1083.0" y="16.7" font-size="9.4px" fill="#404040" textLength="12.6" lengthAdjust="spacingAndGlyphs">D1</text>
<text x="1110.1" y="16.7" font-size="9.4px" fill="#404040" textLength="15.6" lengthAdjust="spacingAndGlyphs">W1</text>
<text x="1137.2" y="16.7" font-size="9.4px" fill="#404040" textLength="15.4" lengthAdjust="spacingAndGlyphs">MN</text>
<rect x="1160" y="0" width="1" height="25" fill="#a0a0a0" shape-rendering="crispEdges"/>
<path d="M1628 13.6 L1623 18" stroke="#1a48c0" stroke-width="2.6" stroke-linecap="round"/><circle cx="1630.6" cy="10.3" r="4" fill="#f4f6fa" stroke="#2050d0" stroke-width="1.3"/>
<path d="M1659 13 L1666 13 L1666.6 16.4 L1664 13.6" fill="#888"/><ellipse cx="1663.3" cy="9.6" rx="6.3" ry="4.5" fill="#f4f4fa" stroke="#8c8c8c" stroke-width="0.9"/><path d="M1652 16.4 L1651.6 19.6 L1655 16.6" fill="#777"/><ellipse cx="1654.4" cy="13.7" rx="5" ry="3.6" fill="#eeeef6" stroke="#8c8c8c" stroke-width="0.9"/>
</svg>
</body></html>
